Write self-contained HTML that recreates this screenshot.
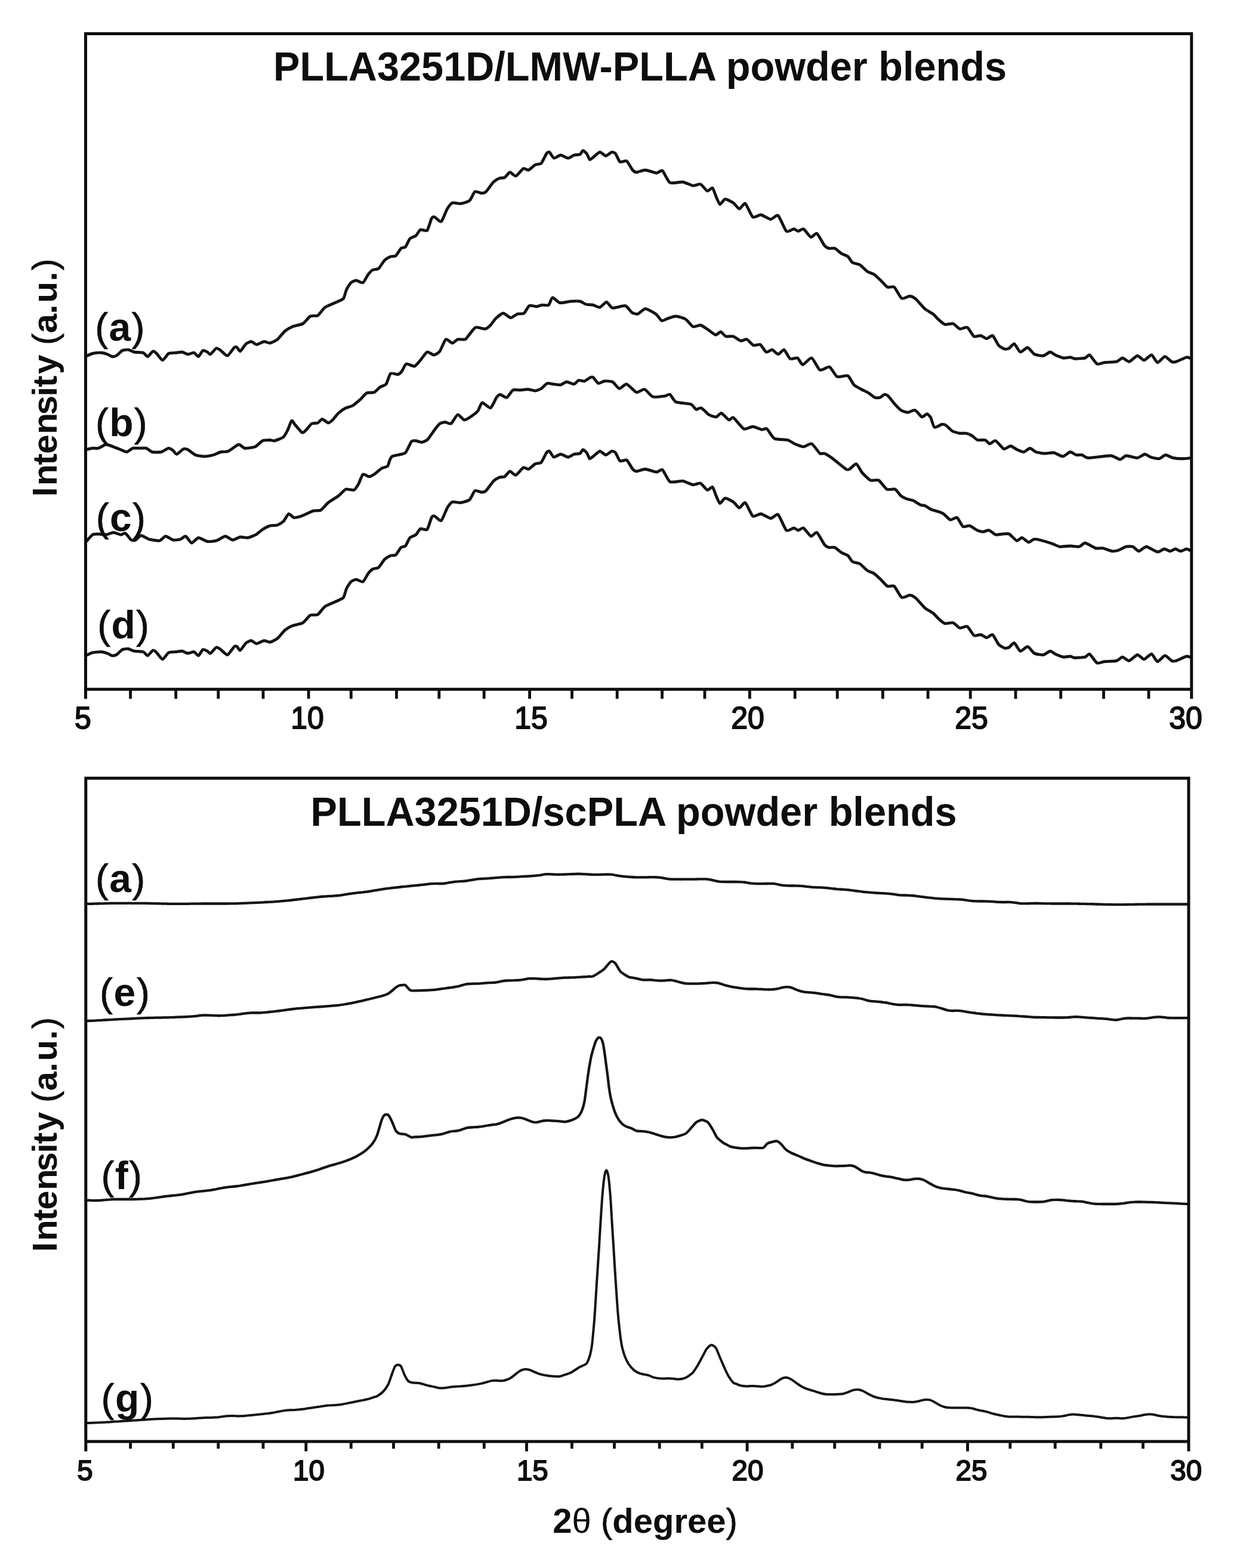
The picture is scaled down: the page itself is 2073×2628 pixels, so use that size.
<!DOCTYPE html>
<html lang="en">
<head>
<meta charset="utf-8">
<title>XRD patterns of PLLA3251D powder blends</title>
<style>
html,body{margin:0;padding:0;background:#fff;}
body{width:2073px;height:2628px;overflow:hidden;}
svg{display:block;filter:blur(0.7px);}
text{font-family:"Liberation Sans",Arial,Helvetica,sans-serif;fill:#0d0d0d;}
.c{fill:none;stroke:#141414;stroke-width:5;stroke-linejoin:round;stroke-linecap:butt;}
</style>
</head>
<body>
<svg width="2073" height="2628" viewBox="0 0 2073 2628">
<rect width="2073" height="2628" fill="#fff"/>
<g class="c">
<path stroke-width="4.9" d="M143.5,597.5 C144.7,597.0 152.3,593.1 155.0,592.5 C157.7,591.9 167.5,591.1 170.0,591.2 C172.5,591.4 178.2,593.1 180.0,593.8 C181.8,594.4 186.0,597.2 187.5,597.5 C189.0,597.8 193.2,597.2 195.0,596.2 C196.8,595.2 203.0,588.5 205.0,587.5 C207.0,586.5 213.0,586.0 215.0,586.2 C217.0,586.5 222.5,589.5 225.0,590.0 C227.5,590.5 237.8,590.5 240.0,591.2 C242.2,592.0 245.9,597.8 247.5,597.5 C249.1,597.2 254.8,589.2 256.2,588.8 C257.8,588.2 260.9,591.0 262.5,592.5 C264.1,594.0 270.5,603.8 272.5,603.8 C274.5,603.8 280.2,593.8 282.5,592.5 C284.8,591.2 292.8,591.5 295.0,591.2 C297.2,591.0 303.0,589.8 305.0,590.0 C307.0,590.2 313.0,593.6 315.0,593.8 C317.0,593.9 323.2,590.9 325.0,591.2 C326.8,591.6 331.0,597.9 332.5,597.5 C334.0,597.1 338.5,588.2 340.0,587.5 C341.5,586.8 346.2,589.4 347.5,590.0 C348.8,590.6 351.0,594.4 352.5,593.8 C354.0,593.1 360.8,584.4 362.5,583.8 C364.2,583.1 368.1,586.2 370.0,587.5 C371.9,588.8 379.0,596.8 381.2,596.2 C383.5,595.8 390.9,583.9 392.5,582.5 C394.1,581.1 396.5,581.9 397.5,582.5 C398.5,583.1 401.0,589.4 402.5,588.8 C404.0,588.1 410.6,577.9 412.5,576.2 C414.4,574.6 419.5,572.4 421.2,572.5 C423.0,572.6 427.9,577.5 430.0,577.5 C432.1,577.5 440.2,572.8 442.5,572.5 C444.8,572.2 450.2,575.4 452.5,575.0 C454.8,574.6 462.5,570.8 465.0,568.8 C467.5,566.8 475.0,557.1 477.5,555.0 C480.0,552.9 487.0,548.8 490.0,547.5 C493.0,546.2 504.5,544.2 507.5,542.5 C510.5,540.8 517.5,531.4 520.0,530.0 C522.5,528.6 530.0,530.2 532.5,528.8 C535.0,527.2 541.5,517.4 545.0,515.0 C548.5,512.6 563.9,506.5 567.0,505.0 C570.1,503.5 574.4,502.0 575.8,500.0 C577.1,498.0 579.5,487.6 580.8,485.0 C582.0,482.4 586.6,475.2 588.2,473.8 C589.9,472.2 595.0,470.0 597.0,470.0 C599.0,470.0 606.2,474.8 608.2,473.8 C610.2,472.8 615.4,462.1 617.0,460.0 C618.6,457.9 622.8,453.5 624.5,452.5 C626.2,451.5 632.5,451.6 634.5,450.0 C636.5,448.4 642.5,438.2 644.5,436.2 C646.5,434.2 652.6,430.8 654.5,430.0 C656.4,429.2 661.5,430.1 663.2,428.8 C665.0,427.4 670.4,417.8 672.0,416.2 C673.6,414.8 678.0,415.4 679.5,413.8 C681.0,412.1 685.2,401.9 687.0,400.0 C688.8,398.1 695.2,396.5 697.0,395.0 C698.8,393.5 702.6,385.9 704.5,385.0 C706.4,384.1 713.9,388.1 715.8,386.2 C717.6,384.4 722.0,368.5 723.2,366.2 C724.5,364.0 726.6,363.2 728.2,363.8 C729.9,364.2 737.4,372.6 739.5,371.2 C741.6,369.9 747.6,353.1 749.5,350.0 C751.4,346.9 756.0,340.9 758.2,340.0 C760.5,339.1 769.1,341.6 772.0,341.2 C774.9,340.9 784.6,338.2 787.0,336.2 C789.4,334.2 793.8,322.5 795.8,321.2 C797.8,320.0 805.1,323.8 807.0,323.8 C808.9,323.8 812.5,323.1 814.5,321.2 C816.5,319.4 824.8,307.2 827.0,305.0 C829.2,302.8 835.1,299.5 837.0,298.8 C838.9,298.0 844.0,298.5 845.8,297.5 C847.5,296.5 852.6,289.0 854.5,288.8 C856.4,288.5 862.2,295.6 864.5,295.0 C866.8,294.4 874.9,283.5 877.0,282.5 C879.1,281.5 883.8,285.6 885.8,285.0 C887.8,284.4 894.9,277.4 897.0,276.2 C899.1,275.1 905.1,275.6 907.0,273.8 C908.9,271.9 914.4,259.4 915.8,257.5 C917.1,255.6 919.5,254.2 920.8,255.0 C922.0,255.8 926.4,264.5 928.2,265.0 C930.1,265.5 937.1,260.0 939.5,260.0 C941.9,260.0 949.8,265.0 952.0,265.0 C954.2,265.0 960.0,260.6 962.0,260.0 C964.0,259.4 970.5,259.5 972.0,258.8 C973.5,258.0 975.9,252.6 977.0,252.5 C978.1,252.4 982.1,256.0 983.2,257.5 C984.4,259.0 987.2,266.9 988.2,267.5 C989.3,268.1 992.3,265.0 994.0,263.8 C995.7,262.5 1003.1,255.2 1005.2,255.0 C1007.4,254.8 1013.2,261.2 1015.2,261.2 C1017.2,261.2 1023.6,255.4 1025.2,255.0 C1026.9,254.6 1030.1,255.9 1031.5,257.5 C1032.9,259.1 1037.1,270.0 1039.0,271.2 C1040.9,272.5 1048.1,268.6 1050.2,270.0 C1052.4,271.4 1058.6,283.1 1060.2,285.0 C1061.9,286.9 1064.4,288.8 1066.5,288.8 C1068.6,288.8 1078.1,284.9 1081.5,285.0 C1084.9,285.1 1097.4,289.9 1100.2,290.0 C1103.1,290.1 1108.0,284.6 1110.2,286.2 C1112.5,287.9 1119.4,304.4 1122.8,306.2 C1126.1,308.1 1140.1,304.5 1144.0,305.0 C1147.9,305.5 1158.5,310.9 1161.5,311.2 C1164.5,311.6 1171.6,307.9 1174.0,308.8 C1176.4,309.6 1183.2,319.4 1185.2,320.0 C1187.2,320.6 1192.5,314.0 1194.0,315.0 C1195.5,316.0 1199.0,327.2 1200.2,330.0 C1201.5,332.8 1205.0,342.1 1206.5,342.5 C1208.0,342.9 1213.0,334.0 1215.2,333.8 C1217.5,333.5 1226.6,338.4 1229.0,340.0 C1231.4,341.6 1237.0,349.9 1239.0,350.0 C1241.0,350.1 1246.8,339.9 1249.0,341.2 C1251.2,342.6 1258.9,361.9 1261.5,363.8 C1264.1,365.6 1272.2,359.6 1275.2,360.0 C1278.2,360.4 1288.6,367.4 1291.5,367.5 C1294.4,367.6 1301.4,359.2 1304.0,361.2 C1306.6,363.2 1315.1,385.2 1317.8,387.5 C1320.4,389.8 1328.2,383.8 1330.2,383.8 C1332.2,383.8 1336.1,387.5 1337.8,387.5 C1339.4,387.5 1344.4,382.8 1346.5,383.8 C1348.6,384.8 1356.8,396.8 1359.0,397.5 C1361.2,398.2 1366.8,389.9 1369.0,391.2 C1371.2,392.6 1379.5,408.8 1381.5,411.2 C1383.5,413.8 1387.2,415.8 1389.0,416.2 C1390.8,416.8 1396.9,415.4 1399.0,416.2 C1401.1,417.1 1408.0,423.6 1410.2,425.0 C1412.5,426.4 1419.2,428.5 1421.0,430.0 C1422.8,431.5 1426.5,438.6 1428.5,440.0 C1430.5,441.4 1438.5,442.2 1441.0,443.8 C1443.5,445.2 1451.1,453.4 1453.5,455.0 C1455.9,456.6 1462.5,458.5 1464.8,460.0 C1467.0,461.5 1473.8,467.9 1476.0,470.0 C1478.2,472.1 1485.0,480.1 1487.2,481.2 C1489.5,482.4 1496.1,479.4 1498.5,481.2 C1500.9,483.1 1508.4,498.5 1511.0,500.0 C1513.6,501.5 1522.4,496.1 1524.8,496.2 C1527.1,496.4 1532.2,499.1 1534.8,501.2 C1537.2,503.4 1546.9,515.0 1549.8,517.5 C1552.6,520.0 1561.1,524.4 1563.5,526.2 C1565.9,528.1 1571.5,534.5 1573.5,536.2 C1575.5,538.0 1581.1,543.1 1583.5,543.8 C1585.9,544.4 1594.8,541.8 1597.2,542.5 C1599.8,543.2 1606.1,550.6 1608.5,551.2 C1610.9,551.9 1618.6,547.5 1621.0,548.8 C1623.4,550.0 1630.0,562.4 1632.2,563.8 C1634.5,565.1 1641.4,562.1 1643.5,562.5 C1645.6,562.9 1651.5,567.5 1653.5,567.5 C1655.5,567.5 1661.5,561.4 1663.5,562.5 C1665.5,563.6 1671.5,576.5 1673.5,578.8 C1675.5,581.0 1681.8,584.5 1683.5,585.0 C1685.2,585.5 1689.4,584.6 1691.0,583.8 C1692.6,582.9 1697.9,575.6 1699.8,576.2 C1701.6,576.9 1707.5,589.4 1709.8,590.0 C1712.0,590.6 1719.9,582.1 1722.2,582.5 C1724.6,582.9 1730.9,592.4 1733.5,593.8 C1736.1,595.1 1745.9,596.6 1748.5,596.2 C1751.1,595.9 1757.8,590.1 1759.8,590.0 C1761.8,589.9 1766.2,594.0 1768.5,595.0 C1770.8,596.0 1779.8,599.6 1782.2,600.0 C1784.8,600.4 1791.6,598.6 1793.5,598.8 C1795.4,598.9 1798.5,601.1 1801.0,601.2 C1803.5,601.4 1816.0,600.6 1818.5,600.0 C1821.0,599.4 1824.0,594.0 1826.0,595.0 C1828.0,596.0 1836.0,608.8 1838.5,610.0 C1841.0,611.2 1847.8,607.9 1851.0,607.5 C1854.2,607.1 1868.0,607.0 1871.0,606.2 C1874.0,605.5 1878.9,600.0 1881.0,600.0 C1883.1,600.0 1889.8,606.6 1892.2,606.2 C1894.8,605.9 1903.5,596.5 1906.0,596.2 C1908.5,596.0 1914.9,603.9 1917.2,603.8 C1919.6,603.6 1927.5,594.6 1929.8,595.0 C1932.0,595.4 1937.5,607.2 1939.8,607.5 C1942.0,607.8 1949.9,597.6 1952.2,597.5 C1954.6,597.4 1961.6,605.4 1963.5,606.2 C1965.4,607.1 1968.5,607.0 1971.0,606.2 C1973.5,605.5 1985.9,599.2 1988.5,598.8 C1991.1,598.2 1996.0,601.0 1996.8,601.2"/>
<path stroke-width="4.9" d="M143.5,753.8 C144.7,753.5 152.8,751.5 155.0,751.2 C157.2,751.0 162.8,751.9 165.0,751.2 C167.2,750.6 175.0,745.2 177.5,745.0 C180.0,744.8 187.5,747.9 190.0,748.8 C192.5,749.6 200.2,752.9 202.5,753.8 C204.8,754.6 210.5,757.8 212.5,757.5 C214.5,757.2 220.5,751.9 222.5,751.2 C224.5,750.6 230.2,751.2 232.5,751.2 C234.8,751.2 242.8,750.6 245.0,751.2 C247.2,751.9 252.5,756.9 255.0,757.5 C257.5,758.1 267.2,758.1 270.0,757.5 C272.8,756.9 280.5,751.5 282.5,751.2 C284.5,751.0 288.6,754.0 290.0,755.0 C291.4,756.0 294.5,761.5 296.2,761.2 C298.0,761.0 305.6,753.2 307.5,752.5 C309.4,751.8 313.0,752.8 315.0,753.8 C317.0,754.8 324.8,761.4 327.5,762.5 C330.2,763.6 339.5,765.0 342.5,765.0 C345.5,765.0 354.8,763.2 357.5,762.5 C360.2,761.8 367.5,758.1 370.0,757.5 C372.5,756.9 379.5,757.5 382.5,756.2 C385.5,755.0 397.2,745.5 400.0,745.0 C402.8,744.5 407.2,750.9 410.0,751.2 C412.8,751.6 424.5,750.0 427.5,748.8 C430.5,747.5 437.5,739.9 440.0,738.8 C442.5,737.6 450.5,737.5 452.5,737.5 C454.5,737.5 457.8,739.2 460.0,738.8 C462.2,738.2 472.8,734.4 475.0,732.5 C477.2,730.6 481.1,722.8 482.5,720.0 C483.9,717.2 487.5,705.8 488.8,705.0 C490.0,704.2 493.2,710.5 495.0,712.5 C496.8,714.5 504.5,724.1 506.2,725.0 C508.0,725.9 510.9,722.8 512.5,721.2 C514.1,719.8 520.5,711.2 522.5,710.0 C524.5,708.8 530.8,709.5 532.5,708.8 C534.2,708.0 538.2,702.5 540.0,702.5 C541.8,702.5 548.2,708.6 550.0,708.8 C551.8,708.9 555.8,705.4 557.5,703.8 C559.2,702.1 564.8,694.5 567.0,692.5 C569.2,690.5 577.1,685.0 579.5,683.8 C581.9,682.5 588.2,681.5 590.8,680.0 C593.2,678.5 602.1,670.9 604.5,668.8 C606.9,666.6 612.2,659.9 614.5,658.8 C616.8,657.6 624.8,658.5 627.0,657.5 C629.2,656.5 635.0,650.1 637.0,648.8 C639.0,647.4 645.2,646.0 647.0,643.8 C648.8,641.5 652.5,627.9 654.5,626.2 C656.5,624.6 665.1,627.9 667.0,627.5 C668.9,627.1 671.9,624.2 673.2,622.5 C674.6,620.8 678.6,610.9 680.8,610.0 C682.9,609.1 692.1,614.4 694.5,613.8 C696.9,613.1 702.4,606.1 704.5,603.8 C706.6,601.4 713.5,590.9 715.8,590.0 C718.0,589.1 724.9,595.1 727.0,595.0 C729.1,594.9 735.0,591.4 737.0,588.8 C739.0,586.1 744.9,570.1 747.0,568.8 C749.1,567.4 756.2,575.0 758.2,575.0 C760.2,575.0 764.9,569.4 767.0,568.8 C769.1,568.1 777.5,569.6 779.5,568.8 C781.5,567.9 785.2,562.0 787.0,560.0 C788.8,558.0 794.4,549.6 797.0,548.8 C799.6,547.9 810.8,551.6 813.2,551.2 C815.8,550.9 820.2,546.8 822.0,545.0 C823.8,543.2 828.6,535.8 830.8,533.8 C832.9,531.8 840.8,525.1 843.2,525.0 C845.8,524.9 853.4,532.4 855.8,532.5 C858.1,532.6 864.8,527.0 867.0,526.2 C869.2,525.5 876.2,526.4 878.2,525.0 C880.2,523.6 884.9,513.6 887.0,512.5 C889.1,511.4 897.4,513.9 899.5,513.8 C901.6,513.6 906.2,511.5 908.2,511.2 C910.2,511.0 917.8,512.5 919.5,511.2 C921.2,510.0 923.9,499.1 925.8,498.8 C927.6,498.4 935.1,506.9 938.2,507.5 C941.4,508.1 953.6,505.2 957.0,505.0 C960.4,504.8 969.5,504.5 972.0,505.0 C974.5,505.5 979.8,509.4 982.0,510.0 C984.2,510.6 991.7,510.8 994.0,511.2 C996.3,511.8 1003.0,515.5 1005.2,515.0 C1007.5,514.5 1014.4,506.1 1016.5,506.2 C1018.6,506.4 1023.4,515.6 1026.5,516.2 C1029.6,516.9 1044.5,511.8 1047.8,512.5 C1051.0,513.2 1056.9,522.4 1059.0,523.8 C1061.1,525.1 1066.8,526.9 1069.0,526.2 C1071.2,525.6 1078.5,517.5 1081.5,517.5 C1084.5,517.5 1096.2,524.2 1099.0,526.2 C1101.8,528.2 1107.0,536.8 1109.0,537.5 C1111.0,538.2 1116.6,534.5 1119.0,533.8 C1121.4,533.0 1129.8,529.9 1132.8,530.0 C1135.8,530.1 1146.1,533.2 1149.0,535.0 C1151.9,536.8 1159.0,546.5 1161.5,547.5 C1164.0,548.5 1171.5,544.5 1174.0,545.0 C1176.5,545.5 1184.0,550.9 1186.5,552.5 C1189.0,554.1 1196.9,560.9 1199.0,561.2 C1201.1,561.6 1206.0,556.0 1207.8,556.2 C1209.5,556.5 1214.4,563.0 1216.5,563.8 C1218.6,564.5 1226.5,563.0 1229.0,563.8 C1231.5,564.5 1239.2,570.8 1241.5,571.2 C1243.8,571.8 1249.4,568.0 1251.5,568.8 C1253.6,569.5 1260.5,577.9 1262.8,578.8 C1265.0,579.6 1271.9,576.4 1274.0,577.5 C1276.1,578.6 1282.0,589.1 1284.0,590.0 C1286.0,590.9 1292.0,585.9 1294.0,586.2 C1296.0,586.6 1302.0,593.8 1304.0,593.8 C1306.0,593.8 1312.0,585.5 1314.0,586.2 C1316.0,587.0 1321.8,599.9 1324.0,601.2 C1326.2,602.6 1334.4,599.0 1336.5,600.0 C1338.6,601.0 1342.9,611.2 1345.2,611.2 C1347.6,611.2 1357.4,599.1 1360.2,600.0 C1363.1,600.9 1371.0,618.5 1374.0,620.0 C1377.0,621.5 1387.4,613.9 1390.2,615.0 C1393.1,616.1 1399.7,629.8 1402.8,631.2 C1405.8,632.8 1418.2,628.6 1421.0,630.0 C1423.8,631.4 1428.8,642.8 1431.0,645.0 C1433.2,647.2 1441.0,651.1 1443.5,652.5 C1446.0,653.9 1453.8,657.4 1456.0,658.8 C1458.2,660.1 1464.1,665.5 1466.0,666.2 C1467.9,667.0 1473.1,666.8 1474.8,666.2 C1476.4,665.8 1480.9,661.5 1482.2,661.2 C1483.6,661.0 1486.9,662.2 1488.5,663.8 C1490.1,665.2 1496.4,673.9 1498.5,676.2 C1500.6,678.6 1507.5,686.0 1509.8,687.5 C1512.0,689.0 1518.6,691.2 1521.0,691.2 C1523.4,691.2 1531.1,686.8 1533.5,687.5 C1535.9,688.2 1542.8,698.1 1544.8,698.8 C1546.8,699.4 1552.0,693.6 1553.5,693.8 C1555.0,693.9 1558.5,697.8 1559.8,700.0 C1561.0,702.2 1564.1,715.1 1566.0,716.2 C1567.9,717.4 1576.6,711.6 1578.5,711.2 C1580.4,710.9 1583.0,711.4 1584.8,712.5 C1586.5,713.6 1593.6,721.1 1596.0,722.5 C1598.4,723.9 1606.2,725.9 1608.5,726.2 C1610.8,726.6 1616.5,725.9 1618.5,726.2 C1620.5,726.6 1626.5,728.9 1628.5,730.0 C1630.5,731.1 1636.2,736.8 1638.5,737.5 C1640.8,738.2 1649.0,736.9 1651.0,737.5 C1653.0,738.1 1656.8,743.6 1658.5,743.8 C1660.2,743.9 1666.1,737.9 1668.5,738.8 C1670.9,739.6 1679.8,751.6 1682.2,752.5 C1684.8,753.4 1691.2,747.4 1693.5,747.5 C1695.8,747.6 1702.5,752.8 1704.8,753.8 C1707.0,754.8 1713.9,757.8 1716.0,757.5 C1718.1,757.2 1724.0,751.2 1726.0,751.2 C1728.0,751.2 1733.5,756.6 1736.0,757.5 C1738.5,758.4 1748.0,759.9 1751.0,760.0 C1754.0,760.1 1763.0,758.2 1766.0,758.8 C1769.0,759.2 1778.2,765.1 1781.0,765.0 C1783.8,764.9 1791.2,757.8 1793.5,757.5 C1795.8,757.2 1801.5,762.0 1803.5,762.5 C1805.5,763.0 1811.5,762.0 1813.5,762.5 C1815.5,763.0 1818.8,767.4 1823.5,767.5 C1828.2,767.6 1855.6,763.5 1861.0,763.8 C1866.4,764.0 1874.6,770.0 1877.2,770.0 C1879.9,770.0 1884.4,764.0 1887.2,763.8 C1890.1,763.5 1902.9,767.8 1906.0,767.5 C1909.1,767.2 1916.2,761.4 1918.5,761.2 C1920.8,761.1 1926.1,765.5 1928.5,766.2 C1930.9,767.0 1939.8,769.1 1942.2,768.8 C1944.8,768.4 1951.1,762.6 1953.5,762.5 C1955.9,762.4 1963.2,766.9 1966.0,767.5 C1968.8,768.1 1977.9,768.8 1981.0,768.8 C1984.1,768.8 1995.2,767.6 1996.8,767.5"/>
<path stroke-width="4.9" d="M143.5,908.8 C144.7,907.5 152.8,897.6 155.0,896.2 C157.2,894.9 162.8,895.0 165.0,895.0 C167.2,895.0 175.0,896.5 177.5,896.2 C180.0,896.0 187.5,892.5 190.0,892.5 C192.5,892.5 200.5,896.1 202.5,896.2 C204.5,896.4 208.2,892.9 210.0,893.8 C211.8,894.6 218.2,903.9 220.0,905.0 C221.8,906.1 225.9,905.8 227.5,905.0 C229.1,904.2 234.0,897.6 236.2,897.5 C238.5,897.4 246.9,902.9 250.0,903.8 C253.1,904.6 264.8,906.8 267.5,906.2 C270.2,905.8 275.2,898.9 277.5,898.8 C279.8,898.6 287.5,904.5 290.0,905.0 C292.5,905.5 300.4,904.4 302.5,903.8 C304.6,903.1 309.4,898.1 311.2,898.8 C313.1,899.4 319.1,909.8 321.2,910.0 C323.4,910.2 329.9,901.5 332.5,901.2 C335.1,901.0 344.5,907.0 347.5,907.5 C350.5,908.0 359.5,907.1 362.5,906.2 C365.5,905.4 374.8,898.9 377.5,898.8 C380.2,898.6 387.5,904.9 390.0,905.0 C392.5,905.1 400.0,900.4 402.5,900.0 C405.0,899.6 412.4,901.6 415.0,901.2 C417.6,900.9 426.2,897.6 428.8,896.2 C431.2,894.9 437.6,889.0 440.0,887.5 C442.4,886.0 450.0,882.0 452.5,881.2 C455.0,880.5 462.8,880.8 465.0,880.0 C467.2,879.2 473.1,875.6 475.0,873.8 C476.9,871.9 482.0,861.9 483.8,861.2 C485.5,860.6 490.4,867.1 492.5,867.5 C494.6,867.9 501.8,866.1 505.0,865.0 C508.2,863.9 521.8,857.2 525.0,856.2 C528.2,855.2 535.0,856.4 537.5,855.0 C540.0,853.6 547.0,844.9 550.0,842.5 C553.0,840.1 564.0,833.5 567.0,831.2 C570.0,829.0 576.9,821.0 579.5,820.0 C582.1,819.0 591.1,822.1 593.2,821.2 C595.4,820.4 599.2,813.9 600.8,811.2 C602.2,808.6 606.5,796.2 608.2,795.0 C610.0,793.8 616.4,798.8 618.2,798.8 C620.1,798.8 624.9,796.4 627.0,795.0 C629.1,793.6 637.2,786.4 639.5,785.0 C641.8,783.6 648.1,782.6 649.5,781.2 C650.9,779.9 652.5,772.6 653.2,771.0 C654.0,769.4 655.6,765.9 657.0,765.0 C658.4,764.1 664.8,763.1 667.0,762.5 C669.2,761.9 677.2,761.0 679.5,758.8 C681.8,756.5 687.8,742.0 689.5,740.0 C691.2,738.0 695.2,738.6 697.0,738.8 C698.8,738.9 705.0,741.5 707.0,741.2 C709.0,741.0 714.8,738.5 717.0,736.2 C719.2,734.0 727.5,721.4 729.5,718.8 C731.5,716.1 735.4,711.1 737.0,710.0 C738.6,708.9 743.9,707.5 745.8,707.5 C747.6,707.5 753.6,711.2 755.8,710.0 C757.9,708.8 764.8,695.6 767.0,695.0 C769.2,694.4 775.8,703.6 778.2,703.8 C780.8,703.9 789.8,697.8 792.0,696.2 C794.2,694.8 799.1,690.9 800.8,688.8 C802.4,686.6 806.1,675.5 808.2,675.0 C810.4,674.5 819.6,684.6 822.0,683.8 C824.4,682.9 830.4,668.5 832.0,666.2 C833.6,664.0 836.5,661.2 838.2,661.2 C840.0,661.2 847.4,667.0 849.5,666.2 C851.6,665.5 857.2,655.0 859.5,653.8 C861.8,652.5 869.5,653.9 872.0,653.8 C874.5,653.6 882.0,652.4 884.5,652.5 C887.0,652.6 894.8,655.1 897.0,655.0 C899.2,654.9 905.0,652.5 907.0,651.2 C909.0,650.0 915.0,643.2 917.0,642.5 C919.0,641.8 924.8,643.5 927.0,643.8 C929.2,644.0 937.2,645.4 939.5,645.0 C941.8,644.6 947.2,640.1 949.5,640.0 C951.8,639.9 960.0,644.0 962.0,643.8 C964.0,643.5 967.8,638.0 969.5,637.5 C971.2,637.0 977.5,639.2 979.5,638.8 C981.5,638.2 988.0,633.1 989.5,632.5 C991.0,631.9 992.7,631.5 994.0,632.5 C995.3,633.5 1000.9,641.9 1002.8,642.5 C1004.6,643.1 1010.4,639.0 1012.8,638.8 C1015.1,638.5 1024.0,638.8 1026.5,640.0 C1029.0,641.2 1035.4,650.9 1037.8,651.2 C1040.1,651.6 1047.4,643.1 1050.2,643.8 C1053.1,644.4 1063.5,656.6 1066.5,657.5 C1069.5,658.4 1077.5,651.8 1080.2,652.5 C1083.0,653.2 1090.6,663.9 1094.0,665.0 C1097.4,666.1 1111.1,664.1 1114.0,663.8 C1116.9,663.4 1120.9,660.2 1122.8,661.2 C1124.6,662.2 1129.2,672.1 1132.8,673.8 C1136.2,675.4 1154.4,676.2 1157.8,677.5 C1161.1,678.8 1164.8,685.6 1166.5,686.2 C1168.2,686.9 1173.1,682.9 1175.2,683.8 C1177.4,684.6 1185.2,693.5 1187.8,695.0 C1190.2,696.5 1198.1,699.0 1200.2,698.8 C1202.4,698.5 1206.9,692.0 1209.0,692.5 C1211.1,693.0 1219.5,703.0 1221.5,703.8 C1223.5,704.5 1226.5,698.5 1229.0,700.0 C1231.5,701.5 1243.2,717.2 1246.5,718.8 C1249.8,720.2 1258.5,714.9 1261.5,715.0 C1264.5,715.1 1274.1,719.6 1276.5,720.0 C1278.9,720.4 1283.1,717.2 1285.2,718.8 C1287.4,720.2 1294.2,733.1 1297.8,735.0 C1301.2,736.9 1316.9,736.6 1320.2,737.5 C1323.6,738.4 1328.9,742.6 1331.5,743.8 C1334.1,744.9 1343.6,748.8 1346.5,748.8 C1349.4,748.8 1357.5,742.6 1360.2,743.8 C1363.0,744.9 1371.9,758.4 1374.0,760.0 C1376.1,761.6 1379.5,759.2 1381.5,760.0 C1383.5,760.8 1390.4,764.9 1394.0,767.5 C1397.6,770.1 1414.5,784.4 1417.5,786.2 C1420.5,788.1 1422.0,787.1 1423.8,786.2 C1425.5,785.4 1432.9,776.9 1435.0,777.5 C1437.1,778.1 1442.6,789.8 1445.0,792.5 C1447.4,795.2 1456.0,803.8 1458.8,805.0 C1461.5,806.2 1469.8,803.5 1472.5,805.0 C1475.2,806.5 1483.5,818.5 1486.2,820.0 C1489.0,821.5 1497.6,818.9 1500.0,820.0 C1502.4,821.1 1508.0,829.6 1510.0,831.2 C1512.0,832.9 1518.0,835.5 1520.0,836.2 C1522.0,837.0 1527.8,837.8 1530.0,838.8 C1532.2,839.8 1540.5,845.4 1542.5,846.2 C1544.5,847.1 1548.2,846.8 1550.0,847.5 C1551.8,848.2 1557.8,852.8 1560.0,853.8 C1562.2,854.8 1570.4,856.8 1572.5,857.5 C1574.6,858.2 1579.2,859.9 1581.2,861.2 C1583.2,862.6 1590.2,870.6 1592.5,871.2 C1594.8,871.9 1601.6,866.4 1603.8,867.5 C1605.9,868.6 1611.6,881.1 1613.8,882.5 C1615.9,883.9 1622.6,880.6 1625.0,881.2 C1627.4,881.9 1635.2,887.8 1637.5,888.8 C1639.8,889.8 1645.5,891.2 1647.5,891.2 C1649.5,891.2 1655.4,888.2 1657.5,888.8 C1659.6,889.2 1666.5,895.6 1668.8,896.2 C1671.0,896.9 1677.8,895.1 1680.0,895.0 C1682.2,894.9 1688.9,893.9 1691.2,895.0 C1693.6,896.1 1701.6,905.6 1703.8,906.2 C1705.9,906.9 1710.5,901.0 1712.5,901.2 C1714.5,901.5 1721.8,908.5 1723.8,908.8 C1725.8,909.0 1730.6,904.1 1732.5,903.8 C1734.4,903.4 1739.4,904.2 1742.5,905.0 C1745.6,905.8 1760.2,910.1 1763.5,911.2 C1766.8,912.4 1773.0,915.9 1776.0,916.2 C1779.0,916.6 1790.2,915.0 1793.5,915.0 C1796.8,915.0 1806.0,916.8 1808.5,916.2 C1811.0,915.8 1815.8,909.8 1818.5,910.0 C1821.2,910.2 1833.0,917.9 1836.0,918.8 C1839.0,919.6 1845.8,918.2 1848.5,918.8 C1851.2,919.2 1861.0,923.4 1863.5,923.8 C1866.0,924.1 1871.1,923.2 1873.5,922.5 C1875.9,921.8 1884.8,916.9 1887.2,916.2 C1889.8,915.6 1896.4,915.5 1898.5,916.2 C1900.6,917.0 1906.2,923.8 1908.5,923.8 C1910.8,923.8 1917.9,916.1 1921.0,916.2 C1924.1,916.4 1936.8,924.6 1939.8,925.0 C1942.8,925.4 1948.9,920.1 1951.0,920.0 C1953.1,919.9 1959.1,923.8 1961.0,923.8 C1962.9,923.8 1968.0,920.0 1969.8,920.0 C1971.5,920.0 1976.6,923.8 1978.5,923.8 C1980.4,923.8 1986.7,920.0 1988.5,920.0 C1990.3,920.0 1996.0,923.4 1996.8,923.8"/>
<path stroke-width="4.9" d="M143.5,1098.8 C144.7,1098.2 152.3,1094.4 155.0,1093.8 C157.7,1093.1 167.5,1092.4 170.0,1092.5 C172.5,1092.6 178.2,1094.4 180.0,1095.0 C181.8,1095.6 186.0,1098.5 187.5,1098.8 C189.0,1099.0 193.2,1098.5 195.0,1097.5 C196.8,1096.5 203.0,1089.8 205.0,1088.8 C207.0,1087.8 213.0,1087.2 215.0,1087.5 C217.0,1087.8 222.5,1090.8 225.0,1091.2 C227.5,1091.8 237.8,1091.8 240.0,1092.5 C242.2,1093.2 245.9,1099.0 247.5,1098.8 C249.1,1098.5 254.8,1090.5 256.2,1090.0 C257.8,1089.5 260.9,1092.2 262.5,1093.8 C264.1,1095.2 270.5,1105.0 272.5,1105.0 C274.5,1105.0 280.2,1095.0 282.5,1093.8 C284.8,1092.5 292.8,1092.8 295.0,1092.5 C297.2,1092.2 303.0,1091.0 305.0,1091.2 C307.0,1091.5 313.0,1094.9 315.0,1095.0 C317.0,1095.1 323.2,1092.1 325.0,1092.5 C326.8,1092.9 331.0,1099.1 332.5,1098.8 C334.0,1098.4 338.5,1089.5 340.0,1088.8 C341.5,1088.0 346.2,1090.6 347.5,1091.2 C348.8,1091.9 351.0,1095.6 352.5,1095.0 C354.0,1094.4 360.8,1085.6 362.5,1085.0 C364.2,1084.4 368.1,1087.5 370.0,1088.8 C371.9,1090.0 379.0,1098.0 381.2,1097.5 C383.5,1097.0 390.9,1085.1 392.5,1083.8 C394.1,1082.4 396.5,1083.1 397.5,1083.8 C398.5,1084.4 401.0,1090.6 402.5,1090.0 C404.0,1089.4 410.6,1079.1 412.5,1077.5 C414.4,1075.9 419.5,1073.6 421.2,1073.8 C423.0,1073.9 427.9,1078.8 430.0,1078.8 C432.1,1078.8 440.2,1074.0 442.5,1073.8 C444.8,1073.5 450.2,1076.6 452.5,1076.2 C454.8,1075.9 462.5,1072.0 465.0,1070.0 C467.5,1068.0 475.0,1058.4 477.5,1056.2 C480.0,1054.1 487.0,1050.0 490.0,1048.8 C493.0,1047.5 504.5,1045.5 507.5,1043.8 C510.5,1042.0 517.5,1032.6 520.0,1031.2 C522.5,1029.9 530.0,1031.5 532.5,1030.0 C535.0,1028.5 541.5,1018.6 545.0,1016.2 C548.5,1013.9 563.9,1007.8 567.0,1006.2 C570.1,1004.8 574.4,1003.2 575.8,1001.2 C577.1,999.2 579.5,988.9 580.8,986.2 C582.0,983.6 586.6,976.5 588.2,975.0 C589.9,973.5 595.0,971.2 597.0,971.2 C599.0,971.2 606.2,976.0 608.2,975.0 C610.2,974.0 615.4,963.4 617.0,961.2 C618.6,959.1 622.8,954.8 624.5,953.8 C626.2,952.8 632.5,952.9 634.5,951.2 C636.5,949.6 642.5,939.5 644.5,937.5 C646.5,935.5 652.6,932.0 654.5,931.2 C656.4,930.5 661.5,931.4 663.2,930.0 C665.0,928.6 670.4,919.0 672.0,917.5 C673.6,916.0 678.0,916.6 679.5,915.0 C681.0,913.4 685.2,903.1 687.0,901.2 C688.8,899.4 695.2,897.8 697.0,896.2 C698.8,894.8 702.6,887.1 704.5,886.2 C706.4,885.4 713.9,889.4 715.8,887.5 C717.6,885.6 722.0,869.8 723.2,867.5 C724.5,865.2 726.6,864.5 728.2,865.0 C729.9,865.5 737.4,873.9 739.5,872.5 C741.6,871.1 747.6,854.4 749.5,851.2 C751.4,848.1 756.0,842.1 758.2,841.2 C760.5,840.4 769.1,842.9 772.0,842.5 C774.9,842.1 784.6,839.5 787.0,837.5 C789.4,835.5 793.8,823.8 795.8,822.5 C797.8,821.2 805.1,825.0 807.0,825.0 C808.9,825.0 812.5,824.4 814.5,822.5 C816.5,820.6 824.8,808.5 827.0,806.2 C829.2,804.0 835.1,800.8 837.0,800.0 C838.9,799.2 844.0,799.8 845.8,798.8 C847.5,797.8 852.6,790.2 854.5,790.0 C856.4,789.8 862.2,796.9 864.5,796.2 C866.8,795.6 874.9,784.8 877.0,783.8 C879.1,782.8 883.8,786.9 885.8,786.2 C887.8,785.6 894.9,778.6 897.0,777.5 C899.1,776.4 905.1,776.9 907.0,775.0 C908.9,773.1 914.4,760.6 915.8,758.8 C917.1,756.9 919.5,755.5 920.8,756.2 C922.0,757.0 926.4,765.8 928.2,766.2 C930.1,766.8 937.1,761.2 939.5,761.2 C941.9,761.2 949.8,766.2 952.0,766.2 C954.2,766.2 960.0,761.9 962.0,761.2 C964.0,760.6 970.5,760.8 972.0,760.0 C973.5,759.2 975.9,753.9 977.0,753.8 C978.1,753.6 982.1,757.2 983.2,758.8 C984.4,760.2 987.2,768.1 988.2,768.8 C989.3,769.4 992.3,766.2 994.0,765.0 C995.7,763.8 1003.1,756.5 1005.2,756.2 C1007.4,756.0 1013.2,762.5 1015.2,762.5 C1017.2,762.5 1023.6,756.6 1025.2,756.2 C1026.9,755.9 1030.1,757.1 1031.5,758.8 C1032.9,760.4 1037.1,771.2 1039.0,772.5 C1040.9,773.8 1048.1,769.9 1050.2,771.2 C1052.4,772.6 1058.6,784.4 1060.2,786.2 C1061.9,788.1 1064.4,790.0 1066.5,790.0 C1068.6,790.0 1078.1,786.1 1081.5,786.2 C1084.9,786.4 1097.4,791.1 1100.2,791.2 C1103.1,791.4 1108.0,785.9 1110.2,787.5 C1112.5,789.1 1119.4,805.6 1122.8,807.5 C1126.1,809.4 1140.1,805.8 1144.0,806.2 C1147.9,806.8 1158.5,812.1 1161.5,812.5 C1164.5,812.9 1171.6,809.1 1174.0,810.0 C1176.4,810.9 1183.2,820.6 1185.2,821.2 C1187.2,821.9 1192.5,815.2 1194.0,816.2 C1195.5,817.2 1199.0,828.5 1200.2,831.2 C1201.5,834.0 1205.0,843.4 1206.5,843.8 C1208.0,844.1 1213.0,835.2 1215.2,835.0 C1217.5,834.8 1226.6,839.6 1229.0,841.2 C1231.4,842.9 1237.0,851.1 1239.0,851.2 C1241.0,851.4 1246.8,841.1 1249.0,842.5 C1251.2,843.9 1258.9,863.1 1261.5,865.0 C1264.1,866.9 1272.2,860.9 1275.2,861.2 C1278.2,861.6 1288.6,868.6 1291.5,868.8 C1294.4,868.9 1301.4,860.5 1304.0,862.5 C1306.6,864.5 1315.1,886.5 1317.8,888.8 C1320.4,891.0 1328.2,885.0 1330.2,885.0 C1332.2,885.0 1336.1,888.8 1337.8,888.8 C1339.4,888.8 1344.4,884.0 1346.5,885.0 C1348.6,886.0 1356.8,898.0 1359.0,898.8 C1361.2,899.5 1366.8,891.1 1369.0,892.5 C1371.2,893.9 1379.5,910.0 1381.5,912.5 C1383.5,915.0 1387.2,917.0 1389.0,917.5 C1390.8,918.0 1396.9,916.6 1399.0,917.5 C1401.1,918.4 1408.0,924.9 1410.2,926.2 C1412.5,927.6 1419.2,929.8 1421.0,931.2 C1422.8,932.8 1426.5,939.9 1428.5,941.2 C1430.5,942.6 1438.5,943.5 1441.0,945.0 C1443.5,946.5 1451.1,954.6 1453.5,956.2 C1455.9,957.9 1462.5,959.8 1464.8,961.2 C1467.0,962.8 1473.8,969.1 1476.0,971.2 C1478.2,973.4 1485.0,981.4 1487.2,982.5 C1489.5,983.6 1496.1,980.6 1498.5,982.5 C1500.9,984.4 1508.4,999.8 1511.0,1001.2 C1513.6,1002.8 1522.4,997.4 1524.8,997.5 C1527.1,997.6 1532.2,1000.4 1534.8,1002.5 C1537.2,1004.6 1546.9,1016.2 1549.8,1018.8 C1552.6,1021.2 1561.1,1025.6 1563.5,1027.5 C1565.9,1029.4 1571.5,1035.8 1573.5,1037.5 C1575.5,1039.2 1581.1,1044.4 1583.5,1045.0 C1585.9,1045.6 1594.8,1043.0 1597.2,1043.8 C1599.8,1044.5 1606.1,1051.9 1608.5,1052.5 C1610.9,1053.1 1618.6,1048.8 1621.0,1050.0 C1623.4,1051.2 1630.0,1063.6 1632.2,1065.0 C1634.5,1066.4 1641.4,1063.4 1643.5,1063.8 C1645.6,1064.1 1651.5,1068.8 1653.5,1068.8 C1655.5,1068.8 1661.5,1062.6 1663.5,1063.8 C1665.5,1064.9 1671.5,1077.8 1673.5,1080.0 C1675.5,1082.2 1681.8,1085.8 1683.5,1086.2 C1685.2,1086.8 1689.4,1085.9 1691.0,1085.0 C1692.6,1084.1 1697.9,1076.9 1699.8,1077.5 C1701.6,1078.1 1707.5,1090.6 1709.8,1091.2 C1712.0,1091.9 1719.9,1083.4 1722.2,1083.8 C1724.6,1084.1 1730.9,1093.6 1733.5,1095.0 C1736.1,1096.4 1745.9,1097.9 1748.5,1097.5 C1751.1,1097.1 1757.8,1091.4 1759.8,1091.2 C1761.8,1091.1 1766.2,1095.2 1768.5,1096.2 C1770.8,1097.2 1779.8,1100.9 1782.2,1101.2 C1784.8,1101.6 1791.6,1099.9 1793.5,1100.0 C1795.4,1100.1 1798.5,1102.4 1801.0,1102.5 C1803.5,1102.6 1816.0,1101.9 1818.5,1101.2 C1821.0,1100.6 1824.0,1095.2 1826.0,1096.2 C1828.0,1097.2 1836.0,1110.0 1838.5,1111.2 C1841.0,1112.5 1847.8,1109.1 1851.0,1108.8 C1854.2,1108.4 1868.0,1108.2 1871.0,1107.5 C1874.0,1106.8 1878.9,1101.2 1881.0,1101.2 C1883.1,1101.2 1889.8,1107.9 1892.2,1107.5 C1894.8,1107.1 1903.5,1097.8 1906.0,1097.5 C1908.5,1097.2 1914.9,1105.1 1917.2,1105.0 C1919.6,1104.9 1927.5,1095.9 1929.8,1096.2 C1932.0,1096.6 1937.5,1108.5 1939.8,1108.8 C1942.0,1109.0 1949.9,1098.9 1952.2,1098.8 C1954.6,1098.6 1961.6,1106.6 1963.5,1107.5 C1965.4,1108.4 1968.5,1108.2 1971.0,1107.5 C1973.5,1106.8 1985.9,1100.5 1988.5,1100.0 C1991.1,1099.5 1996.0,1102.2 1996.8,1102.5"/>
<path stroke-width="4.3" d="M143.8,1514.9 C144.6,1514.9 150.8,1514.8 152.3,1514.8 C153.7,1514.8 157.1,1514.7 158.3,1514.7 C159.5,1514.6 163.1,1514.5 164.3,1514.5 C165.5,1514.5 169.1,1514.3 170.3,1514.3 C171.5,1514.3 175.1,1514.2 176.3,1514.1 C177.5,1514.1 181.1,1514.0 182.3,1514.0 C183.5,1514.0 187.1,1513.9 188.3,1513.9 C189.5,1513.8 193.1,1513.8 194.3,1513.8 C195.5,1513.8 199.1,1513.8 200.3,1513.8 C201.5,1513.8 205.1,1513.8 206.3,1513.8 C207.5,1513.8 211.1,1513.8 212.3,1513.8 C213.6,1513.7 217.2,1513.7 218.4,1513.8 C219.6,1513.8 223.2,1513.8 224.4,1513.8 C225.6,1513.8 229.2,1513.8 230.4,1513.8 C231.6,1513.8 235.2,1513.8 236.4,1513.8 C237.6,1513.8 241.2,1513.8 242.4,1513.9 C243.6,1513.9 247.2,1513.9 248.4,1514.0 C249.6,1514.0 253.2,1514.1 254.4,1514.1 C255.6,1514.1 259.2,1514.2 260.4,1514.3 C261.6,1514.3 265.2,1514.4 266.4,1514.4 C267.6,1514.4 271.2,1514.5 272.4,1514.6 C273.6,1514.6 277.2,1514.7 278.4,1514.7 C279.6,1514.7 283.3,1514.8 284.5,1514.8 C285.7,1514.9 289.3,1514.9 290.5,1514.9 C291.7,1514.9 295.3,1514.9 296.5,1514.9 C297.7,1514.9 301.3,1514.9 302.5,1514.9 C303.7,1514.9 307.3,1514.8 308.5,1514.8 C309.7,1514.8 313.3,1514.8 314.5,1514.8 C315.7,1514.7 319.3,1514.7 320.5,1514.7 C321.7,1514.7 325.3,1514.6 326.5,1514.6 C327.7,1514.6 331.3,1514.6 332.5,1514.6 C333.7,1514.6 337.3,1514.5 338.5,1514.5 C339.7,1514.5 343.3,1514.5 344.5,1514.5 C345.7,1514.5 349.4,1514.5 350.6,1514.5 C351.8,1514.5 355.4,1514.5 356.6,1514.5 C357.8,1514.5 361.4,1514.5 362.6,1514.5 C363.8,1514.5 367.4,1514.5 368.6,1514.5 C369.8,1514.5 373.4,1514.5 374.6,1514.5 C375.8,1514.5 379.4,1514.5 380.6,1514.5 C381.8,1514.5 385.4,1514.5 386.6,1514.4 C387.8,1514.4 391.4,1514.4 392.6,1514.3 C393.8,1514.3 397.4,1514.2 398.6,1514.1 C399.8,1514.1 403.4,1514.0 404.6,1513.9 C405.8,1513.9 409.4,1513.7 410.6,1513.7 C411.8,1513.6 415.5,1513.5 416.7,1513.4 C417.9,1513.4 421.5,1513.2 422.7,1513.2 C423.9,1513.1 427.5,1513.0 428.7,1512.9 C429.9,1512.9 433.5,1512.7 434.7,1512.7 C435.9,1512.6 439.5,1512.5 440.7,1512.4 C441.9,1512.3 445.5,1512.1 446.7,1512.0 C447.9,1512.0 451.5,1511.7 452.7,1511.7 C453.9,1511.6 457.5,1511.3 458.7,1511.3 C459.9,1511.2 463.5,1510.9 464.7,1510.8 C465.9,1510.8 469.5,1510.5 470.7,1510.4 C471.9,1510.3 475.5,1510.0 476.7,1509.9 C477.9,1509.8 481.5,1509.4 482.8,1509.3 C484.0,1509.2 487.6,1508.8 488.8,1508.6 C490.0,1508.5 493.6,1508.1 494.8,1507.9 C496.0,1507.8 499.6,1507.4 500.8,1507.2 C502.0,1507.1 505.6,1506.6 506.8,1506.5 C508.0,1506.3 511.6,1505.9 512.8,1505.8 C514.0,1505.6 517.6,1505.2 518.8,1505.0 C520.0,1504.9 523.6,1504.5 524.8,1504.3 C526.0,1504.2 529.6,1503.8 530.8,1503.6 C532.0,1503.5 535.6,1503.1 536.8,1503.0 C538.0,1502.9 541.6,1502.6 542.8,1502.5 C544.0,1502.4 547.6,1502.2 548.9,1502.1 C550.1,1502.0 553.7,1501.9 554.9,1501.8 C556.1,1501.7 559.7,1501.5 560.9,1501.4 C562.1,1501.4 565.7,1501.1 566.9,1500.9 C568.1,1500.8 571.7,1500.3 572.9,1500.2 C574.1,1500.0 577.7,1499.4 578.9,1499.2 C580.1,1499.0 583.7,1498.4 584.9,1498.2 C586.1,1498.1 589.7,1497.5 590.9,1497.3 C592.1,1497.2 595.7,1496.7 596.9,1496.6 C598.1,1496.4 601.7,1496.0 602.9,1495.9 C604.1,1495.8 607.7,1495.4 608.9,1495.3 C610.1,1495.1 613.7,1494.7 614.9,1494.6 C616.2,1494.4 619.8,1493.9 621.0,1493.7 C622.2,1493.5 625.8,1492.9 627.0,1492.7 C628.2,1492.5 631.8,1491.8 633.0,1491.6 C634.2,1491.4 637.8,1490.8 639.0,1490.6 C640.2,1490.4 643.8,1489.9 645.0,1489.7 C646.2,1489.6 649.8,1489.1 651.0,1488.9 C652.2,1488.8 655.8,1488.3 657.0,1488.2 C658.2,1488.1 661.8,1487.6 663.0,1487.5 C664.2,1487.4 667.8,1487.0 669.0,1486.8 C670.2,1486.7 673.8,1486.3 675.0,1486.2 C676.2,1486.1 679.8,1485.7 681.0,1485.6 C682.2,1485.5 685.9,1485.1 687.1,1485.0 C688.3,1484.9 691.9,1484.5 693.1,1484.4 C694.3,1484.3 697.9,1483.9 699.1,1483.8 C700.3,1483.7 703.9,1483.3 705.1,1483.2 C706.3,1483.1 709.9,1482.7 711.1,1482.5 C712.3,1482.4 715.9,1481.9 717.1,1481.8 C718.3,1481.7 721.9,1481.2 723.1,1481.1 C724.3,1481.0 727.9,1480.9 729.1,1480.9 C730.3,1480.8 733.9,1481.0 735.1,1481.0 C736.3,1481.0 739.9,1481.0 741.1,1481.0 C742.3,1480.9 745.9,1480.5 747.1,1480.3 C748.3,1480.1 752.0,1479.4 753.2,1479.2 C754.4,1479.0 758.0,1478.4 759.2,1478.3 C760.4,1478.1 764.0,1477.7 765.2,1477.6 C766.4,1477.5 770.0,1477.3 771.2,1477.2 C772.4,1477.1 776.0,1476.9 777.2,1476.8 C778.4,1476.7 782.0,1476.3 783.2,1476.1 C784.4,1476.0 788.0,1475.4 789.2,1475.2 C790.4,1475.0 794.0,1474.3 795.2,1474.1 C796.4,1473.9 800.0,1473.4 801.2,1473.2 C802.4,1473.1 806.0,1472.9 807.2,1472.8 C808.4,1472.7 812.0,1472.6 813.2,1472.5 C814.4,1472.4 818.1,1472.2 819.3,1472.1 C820.5,1472.1 824.1,1471.7 825.3,1471.6 C826.5,1471.5 830.1,1471.2 831.3,1471.1 C832.5,1471.0 836.1,1470.7 837.3,1470.6 C838.5,1470.5 842.1,1470.3 843.3,1470.2 C844.5,1470.2 848.1,1470.1 849.3,1470.0 C850.5,1470.0 854.1,1470.0 855.3,1470.0 C856.5,1469.9 860.1,1469.9 861.3,1469.8 C862.5,1469.8 866.1,1469.6 867.3,1469.6 C868.5,1469.5 872.1,1469.3 873.3,1469.2 C874.5,1469.1 878.1,1468.9 879.3,1468.8 C880.5,1468.7 884.1,1468.5 885.4,1468.5 C886.6,1468.4 890.2,1468.2 891.4,1468.1 C892.6,1468.1 896.2,1467.8 897.4,1467.7 C898.6,1467.6 902.2,1467.2 903.4,1467.0 C904.6,1466.9 908.2,1466.2 909.4,1466.0 C910.6,1465.8 914.2,1465.3 915.4,1465.2 C916.6,1465.1 920.2,1465.1 921.4,1465.1 C922.6,1465.1 926.2,1465.4 927.4,1465.5 C928.6,1465.5 932.2,1465.7 933.4,1465.7 C934.6,1465.8 938.2,1465.7 939.4,1465.7 C940.6,1465.7 944.2,1465.5 945.4,1465.5 C946.6,1465.4 950.2,1465.2 951.5,1465.2 C952.7,1465.1 956.3,1465.0 957.5,1465.0 C958.7,1464.9 962.3,1464.8 963.5,1464.8 C964.7,1464.8 968.3,1464.7 969.5,1464.7 C970.7,1464.7 974.3,1464.8 975.5,1464.8 C976.7,1464.8 980.3,1465.0 981.5,1465.1 C982.7,1465.2 986.3,1465.4 987.5,1465.5 C988.7,1465.6 992.3,1465.8 993.5,1465.8 C994.7,1465.9 998.3,1465.9 999.5,1465.9 C1000.7,1465.9 1004.3,1465.8 1005.5,1465.8 C1006.7,1465.8 1010.3,1465.6 1011.5,1465.6 C1012.7,1465.6 1016.3,1465.5 1017.5,1465.5 C1018.8,1465.5 1022.4,1465.6 1023.6,1465.7 C1024.8,1465.8 1028.4,1466.3 1029.6,1466.5 C1030.8,1466.7 1034.4,1467.4 1035.6,1467.6 C1036.8,1467.8 1040.4,1468.3 1041.6,1468.5 C1042.8,1468.6 1046.4,1469.0 1047.6,1469.1 C1048.8,1469.2 1052.4,1469.5 1053.6,1469.6 C1054.8,1469.7 1058.4,1470.0 1059.6,1470.0 C1060.8,1470.1 1064.4,1470.3 1065.6,1470.3 C1066.8,1470.3 1070.4,1470.4 1071.6,1470.4 C1072.8,1470.4 1076.4,1470.4 1077.6,1470.3 C1078.8,1470.3 1082.4,1470.3 1083.6,1470.3 C1084.8,1470.3 1088.5,1470.2 1089.7,1470.2 C1090.9,1470.2 1094.5,1470.2 1095.7,1470.2 C1096.9,1470.2 1100.5,1470.3 1101.7,1470.3 C1102.9,1470.4 1106.5,1470.8 1107.7,1471.0 C1108.9,1471.1 1112.5,1471.9 1113.7,1472.1 C1114.9,1472.3 1118.5,1473.0 1119.7,1473.1 C1120.9,1473.3 1124.5,1473.6 1125.7,1473.6 C1126.9,1473.7 1130.5,1473.7 1131.7,1473.7 C1132.9,1473.7 1136.5,1473.7 1137.7,1473.7 C1138.9,1473.8 1142.5,1473.7 1143.7,1473.7 C1144.9,1473.7 1148.5,1473.7 1149.7,1473.7 C1150.9,1473.7 1154.6,1473.7 1155.8,1473.7 C1157.0,1473.7 1160.6,1473.6 1161.8,1473.6 C1163.0,1473.6 1166.6,1473.5 1167.8,1473.5 C1169.0,1473.5 1172.6,1473.4 1173.8,1473.4 C1175.0,1473.4 1178.6,1473.3 1179.8,1473.3 C1181.0,1473.4 1184.6,1473.5 1185.8,1473.6 C1187.0,1473.8 1190.6,1474.4 1191.8,1474.6 C1193.0,1474.9 1196.6,1475.9 1197.8,1476.2 C1199.0,1476.5 1202.6,1477.2 1203.8,1477.4 C1205.0,1477.6 1208.6,1477.8 1209.8,1477.9 C1211.0,1477.9 1214.6,1478.0 1215.8,1478.0 C1217.0,1478.0 1220.7,1478.0 1221.9,1478.0 C1223.1,1478.0 1226.7,1478.0 1227.9,1478.0 C1229.1,1478.0 1232.7,1478.0 1233.9,1478.0 C1235.1,1478.0 1238.7,1478.1 1239.9,1478.1 C1241.1,1478.1 1244.7,1478.3 1245.9,1478.5 C1247.1,1478.6 1250.7,1479.1 1251.9,1479.3 C1253.1,1479.4 1256.7,1480.1 1257.9,1480.3 C1259.1,1480.4 1262.7,1480.8 1263.9,1480.9 C1265.1,1481.0 1268.7,1481.2 1269.9,1481.2 C1271.1,1481.2 1274.7,1481.2 1275.9,1481.2 C1277.1,1481.2 1280.7,1481.1 1281.9,1481.0 C1283.1,1481.0 1286.8,1480.9 1288.0,1480.8 C1289.2,1480.8 1292.8,1480.8 1294.0,1480.8 C1295.2,1480.9 1298.8,1481.3 1300.0,1481.5 C1301.2,1481.7 1304.8,1482.5 1306.0,1482.8 C1307.2,1483.0 1310.8,1483.7 1312.0,1483.9 C1313.2,1484.0 1316.8,1484.3 1318.0,1484.4 C1319.2,1484.4 1322.8,1484.5 1324.0,1484.5 C1325.2,1484.5 1328.8,1484.5 1330.0,1484.5 C1331.2,1484.5 1334.8,1484.6 1336.0,1484.6 C1337.2,1484.6 1340.8,1484.8 1342.0,1484.9 C1343.2,1485.0 1346.8,1485.3 1348.0,1485.5 C1349.2,1485.6 1352.8,1486.1 1354.1,1486.2 C1355.3,1486.4 1358.9,1486.7 1360.1,1486.8 C1361.3,1486.9 1364.9,1487.1 1366.1,1487.1 C1367.3,1487.2 1370.9,1487.3 1372.1,1487.3 C1373.3,1487.4 1376.9,1487.5 1378.1,1487.6 C1379.3,1487.7 1382.9,1488.0 1384.1,1488.1 C1385.3,1488.2 1388.9,1488.6 1390.1,1488.7 C1391.3,1488.9 1394.9,1489.3 1396.1,1489.5 C1397.3,1489.6 1400.9,1489.9 1402.1,1490.1 C1403.3,1490.2 1406.9,1490.4 1408.1,1490.5 C1409.3,1490.6 1412.9,1490.8 1414.1,1490.9 C1415.3,1491.0 1418.9,1491.3 1420.1,1491.4 C1421.4,1491.5 1425.0,1491.9 1426.2,1492.1 C1427.4,1492.2 1431.0,1492.7 1432.2,1492.8 C1433.4,1493.0 1437.0,1493.5 1438.2,1493.7 C1439.4,1493.8 1443.0,1494.3 1444.2,1494.5 C1445.4,1494.6 1449.0,1495.1 1450.2,1495.2 C1451.4,1495.3 1455.0,1495.6 1456.2,1495.7 C1457.4,1495.8 1461.0,1496.0 1462.2,1496.1 C1463.4,1496.2 1467.0,1496.4 1468.2,1496.5 C1469.4,1496.5 1473.0,1496.7 1474.2,1496.8 C1475.4,1496.9 1479.0,1497.1 1480.2,1497.1 C1481.4,1497.2 1485.0,1497.4 1486.2,1497.5 C1487.4,1497.6 1491.1,1497.9 1492.3,1498.1 C1493.5,1498.2 1497.1,1498.7 1498.3,1498.9 C1499.5,1499.1 1503.1,1499.7 1504.3,1499.8 C1505.5,1500.0 1509.1,1500.3 1510.3,1500.4 C1511.5,1500.5 1515.1,1500.5 1516.3,1500.5 C1517.5,1500.6 1521.1,1500.6 1522.3,1500.6 C1523.5,1500.7 1527.1,1500.9 1528.3,1501.0 C1529.5,1501.1 1533.1,1501.5 1534.3,1501.7 C1535.5,1501.8 1539.1,1502.3 1540.3,1502.4 C1541.5,1502.6 1545.1,1503.0 1546.3,1503.2 C1547.5,1503.3 1551.1,1503.8 1552.3,1503.9 C1553.5,1504.1 1557.2,1504.5 1558.4,1504.7 C1559.6,1504.8 1563.2,1505.2 1564.4,1505.4 C1565.6,1505.5 1569.2,1505.8 1570.4,1505.9 C1571.6,1506.0 1575.2,1506.3 1576.4,1506.3 C1577.6,1506.4 1581.2,1506.5 1582.4,1506.6 C1583.6,1506.6 1587.2,1506.7 1588.4,1506.7 C1589.6,1506.8 1593.2,1506.9 1594.4,1506.9 C1595.6,1506.9 1599.2,1507.0 1600.4,1507.1 C1601.6,1507.1 1605.2,1507.2 1606.4,1507.3 C1607.6,1507.4 1611.2,1507.6 1612.4,1507.7 C1613.6,1507.9 1617.2,1508.4 1618.4,1508.6 C1619.6,1508.7 1623.3,1509.3 1624.5,1509.5 C1625.7,1509.7 1629.3,1510.1 1630.5,1510.2 C1631.7,1510.3 1635.3,1510.4 1636.5,1510.4 C1637.7,1510.5 1641.3,1510.5 1642.5,1510.5 C1643.7,1510.5 1647.3,1510.5 1648.5,1510.5 C1649.7,1510.5 1653.3,1510.6 1654.5,1510.6 C1655.7,1510.7 1659.3,1510.9 1660.5,1510.9 C1661.7,1511.0 1665.3,1511.3 1666.5,1511.4 C1667.7,1511.5 1671.3,1511.8 1672.5,1511.9 C1673.7,1511.9 1677.3,1512.0 1678.5,1512.0 C1679.7,1512.1 1683.3,1512.0 1684.5,1512.0 C1685.7,1511.9 1689.4,1511.9 1690.6,1511.9 C1691.8,1511.9 1695.4,1512.2 1696.6,1512.3 C1697.8,1512.4 1701.4,1513.0 1702.6,1513.2 C1703.8,1513.4 1707.4,1514.0 1708.6,1514.1 C1709.8,1514.2 1713.4,1514.4 1714.6,1514.4 C1715.8,1514.5 1719.4,1514.4 1720.6,1514.4 C1721.8,1514.3 1725.4,1514.2 1726.6,1514.1 C1727.8,1514.1 1731.4,1514.0 1732.6,1514.0 C1733.8,1514.0 1737.4,1514.0 1738.6,1514.0 C1739.8,1514.0 1743.4,1514.1 1744.6,1514.1 C1745.8,1514.1 1749.4,1514.2 1750.6,1514.3 C1751.8,1514.3 1755.4,1514.4 1756.7,1514.4 C1757.9,1514.4 1761.5,1514.5 1762.7,1514.5 C1763.9,1514.5 1767.5,1514.5 1768.7,1514.5 C1769.9,1514.5 1773.5,1514.5 1774.7,1514.5 C1775.9,1514.5 1779.5,1514.5 1780.7,1514.5 C1781.9,1514.5 1785.5,1514.5 1786.7,1514.5 C1787.9,1514.5 1791.5,1514.5 1792.7,1514.5 C1793.9,1514.5 1797.5,1514.6 1798.7,1514.6 C1799.9,1514.6 1803.5,1514.7 1804.7,1514.7 C1805.9,1514.7 1809.5,1514.8 1810.7,1514.8 C1811.9,1514.8 1815.5,1514.9 1816.7,1514.9 C1817.9,1514.9 1821.5,1515.0 1822.7,1515.1 C1824.0,1515.1 1827.6,1515.2 1828.8,1515.2 C1830.0,1515.2 1833.6,1515.3 1834.8,1515.3 C1836.0,1515.4 1839.6,1515.5 1840.8,1515.5 C1842.0,1515.5 1845.6,1515.6 1846.8,1515.6 C1848.0,1515.7 1851.6,1515.8 1852.8,1515.8 C1854.0,1515.8 1857.6,1515.9 1858.8,1515.9 C1860.0,1516.0 1863.6,1516.0 1864.8,1516.1 C1866.0,1516.1 1869.6,1516.1 1870.8,1516.1 C1872.0,1516.1 1875.6,1516.1 1876.8,1516.1 C1878.0,1516.1 1881.6,1516.1 1882.8,1516.1 C1884.0,1516.1 1887.6,1516.0 1888.8,1516.0 C1890.0,1516.0 1893.7,1515.9 1894.9,1515.9 C1896.1,1515.9 1899.7,1515.8 1900.9,1515.8 C1902.1,1515.8 1905.7,1515.7 1906.9,1515.7 C1908.1,1515.7 1911.7,1515.6 1912.9,1515.6 C1914.1,1515.6 1917.7,1515.6 1918.9,1515.6 C1920.1,1515.5 1923.7,1515.5 1924.9,1515.5 C1926.1,1515.5 1929.7,1515.5 1930.9,1515.5 C1932.1,1515.5 1935.7,1515.5 1936.9,1515.5 C1938.1,1515.5 1941.7,1515.5 1942.9,1515.5 C1944.1,1515.5 1947.7,1515.5 1948.9,1515.5 C1950.1,1515.5 1953.7,1515.5 1954.9,1515.5 C1956.1,1515.5 1959.8,1515.5 1961.0,1515.5 C1962.2,1515.5 1965.8,1515.5 1967.0,1515.5 C1968.2,1515.5 1971.8,1515.5 1973.0,1515.5 C1974.2,1515.5 1977.8,1515.5 1979.0,1515.5 C1980.2,1515.5 1983.7,1515.5 1985.0,1515.5 C1986.3,1515.5 1991.3,1515.5 1992.0,1515.5"/>
<path stroke-width="4.3" d="M143.8,1711.1 C144.6,1711.1 150.8,1710.9 152.3,1710.9 C153.7,1710.8 157.1,1710.6 158.3,1710.6 C159.5,1710.5 163.1,1710.3 164.3,1710.2 C165.5,1710.2 169.1,1709.9 170.3,1709.9 C171.5,1709.8 175.1,1709.6 176.3,1709.5 C177.5,1709.5 181.1,1709.3 182.3,1709.2 C183.5,1709.1 187.1,1708.9 188.3,1708.9 C189.5,1708.8 193.1,1708.6 194.3,1708.5 C195.5,1708.5 199.1,1708.3 200.3,1708.2 C201.5,1708.2 205.1,1708.0 206.3,1707.9 C207.5,1707.9 211.1,1707.7 212.3,1707.6 C213.6,1707.6 217.2,1707.4 218.4,1707.3 C219.6,1707.3 223.2,1707.1 224.4,1707.0 C225.6,1707.0 229.2,1706.8 230.4,1706.7 C231.6,1706.7 235.2,1706.5 236.4,1706.4 C237.6,1706.4 241.2,1706.3 242.4,1706.2 C243.6,1706.2 247.2,1706.1 248.4,1706.0 C249.6,1706.0 253.2,1705.9 254.4,1705.9 C255.6,1705.9 259.2,1705.8 260.4,1705.7 C261.6,1705.7 265.2,1705.6 266.4,1705.6 C267.6,1705.6 271.2,1705.5 272.4,1705.4 C273.6,1705.4 277.2,1705.3 278.4,1705.3 C279.6,1705.3 283.3,1705.2 284.5,1705.1 C285.7,1705.1 289.3,1705.0 290.5,1705.0 C291.7,1704.9 295.3,1704.8 296.5,1704.7 C297.7,1704.7 301.3,1704.6 302.5,1704.5 C303.7,1704.5 307.3,1704.3 308.5,1704.3 C309.7,1704.2 313.3,1704.1 314.5,1704.0 C315.7,1704.0 319.3,1703.8 320.5,1703.7 C321.7,1703.6 325.3,1703.2 326.5,1703.1 C327.7,1703.0 331.3,1702.5 332.5,1702.3 C333.7,1702.2 337.3,1701.8 338.5,1701.7 C339.7,1701.6 343.3,1701.5 344.5,1701.5 C345.7,1701.5 349.4,1701.7 350.6,1701.7 C351.8,1701.7 355.4,1701.9 356.6,1701.9 C357.8,1702.0 361.4,1702.1 362.6,1702.2 C363.8,1702.2 367.4,1702.3 368.6,1702.3 C369.8,1702.3 373.4,1702.1 374.6,1702.1 C375.8,1702.0 379.4,1701.8 380.6,1701.7 C381.8,1701.6 385.4,1701.3 386.6,1701.2 C387.8,1701.1 391.4,1700.9 392.6,1700.8 C393.8,1700.7 397.4,1700.4 398.6,1700.2 C399.8,1700.1 403.4,1699.6 404.6,1699.4 C405.8,1699.3 409.4,1698.6 410.6,1698.5 C411.8,1698.3 415.5,1697.9 416.7,1697.8 C417.9,1697.7 421.5,1697.6 422.7,1697.5 C423.9,1697.5 427.5,1697.5 428.7,1697.5 C429.9,1697.5 433.5,1697.5 434.7,1697.5 C435.9,1697.4 439.5,1697.3 440.7,1697.2 C441.9,1697.1 445.5,1696.8 446.7,1696.7 C447.9,1696.5 451.5,1696.1 452.7,1696.0 C453.9,1695.8 457.5,1695.4 458.7,1695.3 C459.9,1695.1 463.5,1694.7 464.7,1694.5 C465.9,1694.4 469.5,1694.0 470.7,1693.8 C471.9,1693.7 475.5,1693.2 476.7,1693.0 C477.9,1692.9 481.5,1692.3 482.8,1692.2 C484.0,1692.0 487.6,1691.5 488.8,1691.3 C490.0,1691.2 493.6,1690.8 494.8,1690.7 C496.0,1690.5 499.6,1690.2 500.8,1690.1 C502.0,1690.0 505.6,1689.8 506.8,1689.7 C508.0,1689.6 511.6,1689.3 512.8,1689.2 C514.0,1689.1 517.6,1688.8 518.8,1688.7 C520.0,1688.6 523.6,1688.3 524.8,1688.2 C526.0,1688.1 529.6,1687.8 530.8,1687.7 C532.0,1687.6 535.6,1687.4 536.8,1687.3 C538.0,1687.2 541.6,1686.9 542.8,1686.8 C544.0,1686.7 547.6,1686.4 548.9,1686.3 C550.1,1686.3 553.7,1686.0 554.9,1685.9 C556.1,1685.8 559.7,1685.5 560.9,1685.4 C562.1,1685.3 565.7,1685.0 566.9,1684.8 C568.1,1684.7 571.7,1684.2 572.9,1684.0 C574.1,1683.8 577.7,1683.2 578.9,1683.0 C580.1,1682.8 583.7,1682.2 584.9,1681.9 C586.1,1681.7 589.7,1681.1 590.9,1680.8 C592.1,1680.6 595.7,1679.9 596.9,1679.6 C598.1,1679.3 601.7,1678.5 602.9,1678.2 C604.1,1678.0 607.7,1677.1 608.9,1676.9 C610.1,1676.6 613.7,1675.7 614.9,1675.4 C616.2,1675.2 619.8,1674.3 621.0,1674.0 C622.2,1673.7 625.8,1672.8 627.0,1672.5 C628.2,1672.2 631.8,1671.3 633.0,1671.0 C634.2,1670.7 637.8,1669.8 639.0,1669.5 C640.2,1669.2 643.8,1668.3 645.0,1667.8 C646.2,1667.4 649.8,1665.9 651.0,1665.2 C652.2,1664.4 655.8,1661.5 657.0,1660.5 C658.2,1659.5 661.8,1656.2 663.0,1655.3 C664.2,1654.5 667.8,1652.2 669.0,1651.8 C670.2,1651.3 674.0,1651.0 675.0,1651.0 C676.1,1650.9 678.2,1650.3 679.5,1651.2 C680.8,1652.2 685.5,1659.1 688.2,1660.0 C691.0,1660.9 702.9,1660.1 707.0,1660.0 C711.1,1659.9 725.5,1659.1 729.5,1658.8 C733.5,1658.4 744.8,1656.6 747.1,1656.3 C749.5,1655.9 752.0,1655.6 753.2,1655.5 C754.4,1655.3 758.0,1654.9 759.2,1654.7 C760.4,1654.5 764.0,1654.0 765.2,1653.7 C766.4,1653.5 770.0,1652.6 771.2,1652.2 C772.4,1651.9 776.0,1650.8 777.2,1650.5 C778.4,1650.2 782.0,1649.4 783.2,1649.2 C784.4,1649.1 788.0,1648.9 789.2,1648.8 C790.4,1648.8 794.0,1648.8 795.2,1648.7 C796.4,1648.7 800.0,1648.7 801.2,1648.6 C802.4,1648.6 806.0,1648.4 807.2,1648.2 C808.4,1648.1 812.0,1647.7 813.2,1647.6 C814.4,1647.5 818.1,1647.2 819.3,1647.1 C820.5,1647.1 824.1,1647.0 825.3,1646.9 C826.5,1646.9 830.1,1646.6 831.3,1646.5 C832.5,1646.3 836.1,1645.5 837.3,1645.3 C838.5,1645.1 842.1,1644.3 843.3,1644.1 C844.5,1643.9 848.1,1643.6 849.3,1643.5 C850.5,1643.5 854.1,1643.3 855.3,1643.3 C856.5,1643.2 860.1,1643.1 861.3,1643.1 C862.5,1643.0 866.1,1642.9 867.3,1642.8 C868.5,1642.8 872.1,1642.5 873.3,1642.4 C874.5,1642.3 878.1,1641.6 879.3,1641.4 C880.5,1641.2 884.1,1640.4 885.4,1640.2 C886.6,1640.1 890.2,1640.0 891.4,1640.0 C892.6,1640.0 896.2,1640.1 897.4,1640.2 C898.6,1640.3 902.2,1640.5 903.4,1640.5 C904.6,1640.6 908.2,1640.8 909.4,1640.8 C910.6,1640.9 914.2,1641.0 915.4,1641.0 C916.6,1641.0 920.2,1640.8 921.4,1640.7 C922.6,1640.7 926.2,1640.3 927.4,1640.2 C928.6,1640.1 932.2,1639.7 933.4,1639.6 C934.6,1639.5 938.2,1639.2 939.4,1639.1 C940.6,1639.0 944.2,1638.8 945.4,1638.7 C946.6,1638.6 950.2,1638.5 951.5,1638.5 C952.7,1638.4 956.3,1638.3 957.5,1638.3 C958.7,1638.2 962.3,1638.1 963.5,1638.1 C964.7,1638.0 968.3,1637.9 969.5,1637.8 C970.7,1637.7 974.3,1637.5 975.5,1637.4 C976.7,1637.4 980.3,1637.1 981.5,1637.1 C982.7,1637.0 986.3,1636.6 987.5,1636.5 C988.8,1636.5 991.6,1637.4 994.0,1636.2 C996.4,1635.1 1008.9,1627.1 1011.5,1625.0 C1014.1,1622.9 1018.9,1616.4 1020.2,1615.0 C1021.6,1613.6 1024.1,1611.2 1025.2,1611.2 C1026.4,1611.2 1030.0,1613.2 1031.5,1615.0 C1033.0,1616.8 1038.0,1626.5 1040.2,1628.8 C1042.5,1631.0 1051.5,1636.4 1054.0,1637.5 C1056.5,1638.6 1063.9,1639.2 1065.6,1639.6 C1067.4,1640.0 1070.4,1640.9 1071.6,1641.2 C1072.8,1641.5 1076.4,1642.3 1077.6,1642.4 C1078.8,1642.5 1082.4,1642.3 1083.6,1642.3 C1084.8,1642.2 1088.5,1642.1 1089.7,1642.1 C1090.9,1642.2 1094.5,1642.6 1095.7,1642.8 C1096.9,1642.9 1100.5,1643.3 1101.7,1643.4 C1102.9,1643.5 1106.5,1643.7 1107.7,1643.7 C1108.9,1643.7 1112.5,1643.6 1113.7,1643.5 C1114.9,1643.4 1118.5,1642.9 1119.7,1642.8 C1120.9,1642.8 1124.5,1642.6 1125.7,1642.8 C1126.9,1642.9 1130.5,1643.8 1131.7,1644.1 C1132.9,1644.4 1136.5,1645.5 1137.7,1645.8 C1138.9,1646.2 1142.5,1647.1 1143.7,1647.3 C1144.9,1647.6 1148.5,1648.2 1149.7,1648.3 C1150.9,1648.5 1154.6,1648.7 1155.8,1648.7 C1157.0,1648.7 1160.6,1648.7 1161.8,1648.7 C1163.0,1648.7 1166.6,1648.7 1167.8,1648.7 C1169.0,1648.6 1172.6,1648.5 1173.8,1648.4 C1175.0,1648.4 1178.6,1648.1 1179.8,1648.1 C1181.0,1648.0 1184.6,1647.8 1185.8,1647.7 C1187.0,1647.6 1190.6,1647.3 1191.8,1647.2 C1193.0,1647.1 1196.6,1646.9 1197.8,1647.0 C1199.0,1647.0 1202.6,1647.4 1203.8,1647.7 C1205.0,1648.0 1208.6,1649.2 1209.8,1649.5 C1211.0,1649.9 1214.6,1651.1 1215.8,1651.4 C1217.0,1651.8 1220.7,1652.6 1221.9,1652.9 C1223.1,1653.2 1226.7,1653.9 1227.9,1654.2 C1229.1,1654.4 1232.7,1655.0 1233.9,1655.2 C1235.1,1655.4 1238.7,1655.9 1239.9,1656.0 C1241.1,1656.2 1244.7,1656.6 1245.9,1656.8 C1247.1,1656.9 1250.7,1657.2 1251.9,1657.3 C1253.1,1657.3 1256.7,1657.4 1257.9,1657.5 C1259.1,1657.5 1262.7,1657.5 1263.9,1657.5 C1265.1,1657.5 1268.7,1657.6 1269.9,1657.7 C1271.1,1657.7 1274.7,1657.9 1275.9,1657.9 C1277.1,1658.0 1280.7,1658.2 1281.9,1658.3 C1283.1,1658.3 1286.8,1658.5 1288.0,1658.5 C1289.2,1658.5 1292.8,1658.3 1294.0,1658.3 C1295.2,1658.2 1298.8,1657.8 1300.0,1657.7 C1301.2,1657.5 1304.8,1656.7 1306.0,1656.5 C1307.2,1656.2 1310.8,1655.1 1312.0,1654.9 C1313.2,1654.7 1316.8,1654.1 1318.0,1654.1 C1319.2,1654.1 1322.8,1654.5 1324.0,1654.7 C1325.2,1655.0 1328.8,1656.3 1330.0,1656.8 C1331.2,1657.3 1334.8,1658.9 1336.0,1659.3 C1337.2,1659.8 1340.8,1661.1 1342.0,1661.4 C1343.2,1661.7 1346.8,1662.4 1348.0,1662.6 C1349.2,1662.7 1352.8,1663.0 1354.1,1663.1 C1355.3,1663.2 1358.9,1663.5 1360.1,1663.6 C1361.3,1663.7 1364.9,1664.1 1366.1,1664.2 C1367.3,1664.4 1370.9,1664.9 1372.1,1665.1 C1373.3,1665.3 1376.9,1665.8 1378.1,1666.0 C1379.3,1666.2 1382.9,1666.6 1384.1,1666.8 C1385.3,1667.0 1388.9,1667.5 1390.1,1667.7 C1391.3,1668.0 1394.9,1668.9 1396.1,1669.2 C1397.3,1669.5 1400.9,1670.4 1402.1,1670.6 C1403.3,1670.8 1406.9,1671.1 1408.1,1671.2 C1409.3,1671.2 1412.9,1671.2 1414.1,1671.3 C1415.3,1671.3 1418.9,1671.4 1420.1,1671.4 C1421.4,1671.5 1425.0,1671.7 1426.2,1671.8 C1427.4,1671.9 1431.0,1672.2 1432.2,1672.4 C1433.4,1672.5 1437.0,1672.9 1438.2,1673.0 C1439.4,1673.2 1443.0,1673.8 1444.2,1674.0 C1445.4,1674.3 1449.0,1675.4 1450.2,1675.8 C1451.4,1676.1 1455.0,1677.1 1456.2,1677.4 C1457.4,1677.6 1461.0,1678.1 1462.2,1678.2 C1463.4,1678.3 1467.0,1678.6 1468.2,1678.7 C1469.4,1678.8 1473.0,1679.1 1474.2,1679.2 C1475.4,1679.3 1479.0,1679.7 1480.2,1679.8 C1481.4,1680.0 1485.0,1680.5 1486.2,1680.7 C1487.4,1681.0 1491.1,1681.7 1492.3,1682.0 C1493.5,1682.2 1497.1,1683.0 1498.3,1683.2 C1499.5,1683.4 1503.1,1683.9 1504.3,1684.0 C1505.5,1684.1 1509.1,1684.2 1510.3,1684.2 C1511.5,1684.2 1515.1,1684.0 1516.3,1684.0 C1517.5,1684.0 1521.1,1684.0 1522.3,1684.1 C1523.5,1684.1 1527.1,1684.4 1528.3,1684.5 C1529.5,1684.6 1533.1,1685.0 1534.3,1685.1 C1535.5,1685.2 1539.1,1685.6 1540.3,1685.7 C1541.5,1685.8 1545.1,1686.1 1546.3,1686.1 C1547.5,1686.2 1551.1,1686.4 1552.3,1686.4 C1553.5,1686.5 1557.2,1686.6 1558.4,1686.7 C1559.6,1686.7 1563.2,1686.9 1564.4,1687.0 C1565.6,1687.2 1569.2,1687.7 1570.4,1688.0 C1571.6,1688.3 1575.2,1689.3 1576.4,1689.7 C1577.6,1690.1 1581.2,1691.2 1582.4,1691.6 C1583.6,1692.0 1587.2,1693.0 1588.4,1693.3 C1589.6,1693.5 1593.2,1694.1 1594.4,1694.1 C1595.6,1694.2 1599.2,1694.0 1600.4,1693.9 C1601.6,1693.9 1605.2,1693.7 1606.4,1693.8 C1607.6,1693.8 1611.2,1694.3 1612.4,1694.5 C1613.6,1694.7 1617.2,1695.4 1618.4,1695.6 C1619.6,1695.8 1623.3,1696.5 1624.5,1696.6 C1625.7,1696.8 1629.3,1697.3 1630.5,1697.5 C1631.7,1697.6 1635.3,1698.1 1636.5,1698.3 C1637.7,1698.4 1641.3,1698.9 1642.5,1699.0 C1643.7,1699.1 1647.3,1699.5 1648.5,1699.6 C1649.7,1699.7 1653.3,1700.0 1654.5,1700.1 C1655.7,1700.2 1659.3,1700.4 1660.5,1700.5 C1661.7,1700.6 1665.3,1700.8 1666.5,1700.9 C1667.7,1701.0 1671.3,1701.2 1672.5,1701.3 C1673.7,1701.4 1677.3,1701.5 1678.5,1701.6 C1679.7,1701.7 1683.3,1701.8 1684.5,1701.9 C1685.7,1701.9 1689.4,1702.1 1690.6,1702.2 C1691.8,1702.2 1695.4,1702.4 1696.6,1702.4 C1697.8,1702.5 1701.4,1702.7 1702.6,1702.7 C1703.8,1702.8 1707.4,1703.0 1708.6,1703.1 C1709.8,1703.1 1713.4,1703.4 1714.6,1703.5 C1715.8,1703.6 1719.4,1703.9 1720.6,1704.0 C1721.8,1704.1 1725.4,1704.3 1726.6,1704.4 C1727.8,1704.5 1731.4,1704.8 1732.6,1704.8 C1733.8,1704.9 1737.4,1705.0 1738.6,1705.0 C1739.8,1705.1 1743.4,1705.1 1744.6,1705.1 C1745.8,1705.2 1749.4,1705.2 1750.6,1705.2 C1751.8,1705.2 1755.4,1705.3 1756.7,1705.3 C1757.9,1705.3 1761.5,1705.4 1762.7,1705.4 C1763.9,1705.4 1767.5,1705.4 1768.7,1705.5 C1769.9,1705.5 1773.5,1705.5 1774.7,1705.5 C1775.9,1705.5 1779.5,1705.5 1780.7,1705.5 C1781.9,1705.5 1785.5,1705.5 1786.7,1705.4 C1787.9,1705.4 1791.5,1705.1 1792.7,1705.0 C1793.9,1704.9 1797.5,1704.5 1798.7,1704.4 C1799.9,1704.3 1803.5,1704.2 1804.7,1704.2 C1805.9,1704.3 1809.5,1704.5 1810.7,1704.6 C1811.9,1704.7 1815.5,1705.0 1816.7,1705.1 C1817.9,1705.2 1821.5,1705.5 1822.7,1705.6 C1824.0,1705.7 1827.6,1705.9 1828.8,1706.0 C1830.0,1706.1 1833.6,1706.3 1834.8,1706.4 C1836.0,1706.5 1839.6,1706.7 1840.8,1706.8 C1842.0,1706.9 1845.6,1707.1 1846.8,1707.2 C1848.0,1707.3 1851.6,1707.6 1852.8,1707.7 C1854.0,1707.8 1857.6,1708.1 1858.8,1708.3 C1860.0,1708.4 1863.6,1709.0 1864.8,1709.2 C1866.0,1709.3 1869.6,1709.5 1870.8,1709.5 C1872.0,1709.4 1875.6,1708.7 1876.8,1708.4 C1878.0,1708.2 1881.6,1707.3 1882.8,1707.1 C1884.0,1706.9 1887.6,1706.5 1888.8,1706.5 C1890.0,1706.4 1893.7,1706.5 1894.9,1706.5 C1896.1,1706.5 1899.7,1706.6 1900.9,1706.6 C1902.1,1706.6 1905.7,1706.7 1906.9,1706.7 C1908.1,1706.7 1911.7,1706.8 1912.9,1706.8 C1914.1,1706.8 1917.7,1706.8 1918.9,1706.8 C1920.1,1706.7 1923.7,1706.4 1924.9,1706.3 C1926.1,1706.1 1929.7,1705.6 1930.9,1705.4 C1932.1,1705.2 1935.7,1704.7 1936.9,1704.6 C1938.1,1704.5 1941.7,1704.4 1942.9,1704.4 C1944.1,1704.4 1947.7,1704.8 1948.9,1704.9 C1950.1,1705.0 1953.7,1705.5 1954.9,1705.6 C1956.1,1705.8 1959.8,1706.0 1961.0,1706.1 C1962.2,1706.2 1965.8,1706.2 1967.0,1706.2 C1968.2,1706.3 1971.8,1706.2 1973.0,1706.2 C1974.2,1706.3 1977.8,1706.2 1979.0,1706.2 C1980.2,1706.3 1983.7,1706.2 1985.0,1706.2 C1986.3,1706.2 1991.3,1706.2 1992.0,1706.2"/>
<path stroke-width="4.3" d="M143.8,2011.4 C144.6,2011.5 150.8,2011.7 152.3,2011.8 C153.7,2011.9 157.1,2012.1 158.3,2012.1 C159.5,2012.1 163.1,2012.1 164.3,2012.0 C165.5,2012.0 169.1,2011.7 170.3,2011.6 C171.5,2011.5 175.1,2011.2 176.3,2011.1 C177.5,2011.0 181.1,2010.7 182.3,2010.7 C183.5,2010.6 187.1,2010.3 188.3,2010.2 C189.5,2010.2 193.1,2010.1 194.3,2010.0 C195.5,2010.0 199.1,2010.0 200.3,2010.0 C201.5,2010.0 205.1,2010.0 206.3,2010.0 C207.5,2010.0 211.1,2010.0 212.3,2010.0 C213.6,2010.0 217.2,2010.0 218.4,2010.0 C219.6,2010.0 223.2,2010.0 224.4,2010.0 C225.6,2009.9 229.2,2009.9 230.4,2009.8 C231.6,2009.8 235.2,2009.6 236.4,2009.6 C237.6,2009.5 241.2,2009.3 242.4,2009.3 C243.6,2009.2 247.2,2009.0 248.4,2008.9 C249.6,2008.8 253.2,2008.5 254.4,2008.3 C255.6,2008.2 259.2,2007.7 260.4,2007.5 C261.6,2007.4 265.2,2006.8 266.4,2006.7 C267.6,2006.5 271.2,2005.9 272.4,2005.8 C273.6,2005.6 277.2,2005.1 278.4,2005.0 C279.6,2004.8 283.3,2004.4 284.5,2004.3 C285.7,2004.2 289.3,2003.8 290.5,2003.7 C291.7,2003.6 295.3,2003.2 296.5,2003.1 C297.7,2002.9 301.3,2002.5 302.5,2002.3 C303.7,2002.1 307.3,2001.5 308.5,2001.3 C309.7,2001.1 313.3,2000.3 314.5,2000.1 C315.7,1999.9 319.3,1999.1 320.5,1998.9 C321.7,1998.7 325.3,1998.0 326.5,1997.9 C327.7,1997.7 331.3,1997.2 332.5,1997.0 C333.7,1996.9 337.3,1996.5 338.5,1996.4 C339.7,1996.3 343.3,1995.9 344.5,1995.8 C345.7,1995.7 349.4,1995.2 350.6,1995.1 C351.8,1994.9 355.4,1994.3 356.6,1994.1 C357.8,1993.9 361.4,1993.2 362.6,1993.0 C363.8,1992.7 367.4,1992.0 368.6,1991.8 C369.8,1991.6 373.4,1990.9 374.6,1990.7 C375.8,1990.5 379.4,1989.9 380.6,1989.8 C381.8,1989.6 385.4,1989.2 386.6,1989.1 C387.8,1989.0 391.4,1988.6 392.6,1988.5 C393.8,1988.4 397.4,1988.0 398.6,1987.8 C399.8,1987.7 403.4,1987.2 404.6,1987.0 C405.8,1986.8 409.4,1986.1 410.6,1985.9 C411.8,1985.7 415.5,1985.0 416.7,1984.8 C417.9,1984.6 421.5,1984.0 422.7,1983.9 C423.9,1983.7 427.5,1983.1 428.7,1982.9 C429.9,1982.8 433.5,1982.2 434.7,1982.0 C435.9,1981.9 439.5,1981.3 440.7,1981.1 C441.9,1980.9 445.5,1980.3 446.7,1980.1 C447.9,1979.9 451.5,1979.2 452.7,1979.0 C453.9,1978.8 457.5,1978.2 458.7,1978.0 C459.9,1977.8 463.5,1977.1 464.7,1976.9 C465.9,1976.7 469.5,1976.1 470.7,1975.9 C471.9,1975.7 475.5,1975.0 476.7,1974.8 C477.9,1974.6 481.5,1974.0 482.8,1973.8 C484.0,1973.5 487.6,1972.8 488.8,1972.6 C490.0,1972.3 493.6,1971.5 494.8,1971.2 C496.0,1970.9 499.6,1969.9 500.8,1969.6 C502.0,1969.3 505.6,1968.3 506.8,1968.0 C508.0,1967.7 511.6,1966.7 512.8,1966.4 C514.0,1966.1 517.6,1965.1 518.8,1964.8 C520.0,1964.5 523.6,1963.5 524.8,1963.1 C526.0,1962.8 529.6,1961.7 530.8,1961.3 C532.0,1960.9 535.6,1959.6 536.8,1959.2 C538.0,1958.8 541.6,1957.5 542.8,1957.1 C544.0,1956.7 547.6,1955.5 548.9,1955.1 C550.1,1954.7 553.7,1953.6 554.9,1953.2 C556.1,1952.9 559.7,1951.9 560.9,1951.6 C562.1,1951.2 565.7,1950.2 566.9,1949.9 C568.1,1949.5 571.7,1948.4 572.9,1948.0 C574.1,1947.6 577.7,1946.4 578.9,1946.0 C580.1,1945.5 583.7,1944.2 584.9,1943.7 C586.1,1943.2 589.7,1941.7 590.9,1941.2 C592.1,1940.6 595.7,1939.0 596.9,1938.3 C598.1,1937.7 601.4,1935.8 602.9,1934.9 C604.4,1933.9 609.8,1930.6 612.0,1928.8 C614.2,1926.9 622.5,1918.9 624.5,1916.2 C626.5,1913.6 630.5,1906.4 632.0,1902.5 C633.5,1898.6 638.2,1880.9 639.5,1877.5 C640.8,1874.1 643.4,1869.6 644.5,1868.8 C645.6,1867.9 649.5,1867.6 650.8,1868.8 C652.0,1869.9 655.8,1877.4 657.0,1880.0 C658.2,1882.6 662.0,1893.0 663.2,1895.0 C664.5,1897.0 667.9,1899.4 669.5,1900.0 C671.1,1900.6 677.5,1900.6 679.5,1901.2 C681.5,1901.9 688.1,1905.8 689.5,1906.2 C690.9,1906.7 692.1,1905.7 693.1,1905.6 C694.0,1905.5 697.9,1905.6 699.1,1905.5 C700.3,1905.5 703.9,1905.2 705.1,1905.1 C706.3,1905.0 709.9,1904.6 711.1,1904.5 C712.3,1904.3 715.9,1903.9 717.1,1903.7 C718.3,1903.6 721.9,1903.1 723.1,1903.0 C724.3,1902.9 727.9,1902.5 729.1,1902.4 C730.3,1902.2 733.9,1901.9 735.1,1901.7 C736.3,1901.6 739.9,1901.0 741.1,1900.7 C742.3,1900.4 745.9,1899.1 747.1,1898.7 C748.3,1898.3 752.0,1897.1 753.2,1896.8 C754.4,1896.5 758.0,1896.0 759.2,1895.9 C760.4,1895.7 764.0,1895.5 765.2,1895.3 C766.4,1895.1 770.0,1894.5 771.2,1894.1 C772.4,1893.8 776.0,1892.3 777.2,1892.0 C778.4,1891.6 782.0,1890.5 783.2,1890.2 C784.4,1890.0 788.0,1889.6 789.2,1889.5 C790.4,1889.4 794.0,1889.3 795.2,1889.2 C796.4,1889.1 800.0,1888.9 801.2,1888.8 C802.4,1888.7 806.0,1888.2 807.2,1888.1 C808.4,1887.9 812.0,1887.2 813.2,1887.0 C814.4,1886.8 818.1,1886.2 819.3,1886.0 C820.5,1885.9 824.1,1885.4 825.3,1885.2 C826.5,1885.1 830.1,1884.6 831.3,1884.4 C832.5,1884.1 836.1,1883.3 837.3,1882.9 C838.5,1882.5 842.1,1881.1 843.3,1880.6 C844.5,1880.1 848.1,1878.4 849.3,1878.0 C850.5,1877.5 854.1,1876.2 855.3,1875.8 C856.5,1875.4 860.1,1874.4 861.3,1874.1 C862.5,1873.9 866.1,1873.2 867.3,1873.1 C868.5,1873.1 872.1,1873.3 873.3,1873.5 C874.5,1873.8 878.1,1874.9 879.3,1875.3 C880.5,1875.8 884.1,1877.4 885.4,1877.8 C886.6,1878.3 890.2,1879.7 891.4,1880.1 C892.6,1880.4 896.2,1881.1 897.4,1881.1 C898.6,1881.1 902.2,1880.5 903.4,1880.2 C904.6,1880.0 908.2,1878.8 909.4,1878.6 C910.6,1878.3 914.2,1878.0 915.4,1878.0 C916.6,1877.9 920.2,1878.1 921.4,1878.1 C922.6,1878.2 926.2,1878.4 927.4,1878.5 C928.6,1878.5 932.2,1878.8 933.4,1878.8 C934.6,1878.9 938.0,1879.2 939.4,1879.3 C940.9,1879.4 945.5,1880.5 947.7,1880.2 C949.9,1879.8 959.4,1877.0 961.6,1876.0 C963.8,1875.0 968.5,1872.0 969.9,1870.5 C971.3,1868.9 974.5,1863.2 975.4,1860.8 C976.4,1858.3 978.9,1849.1 979.6,1845.5 C980.3,1841.9 981.8,1828.9 982.4,1824.7 C982.9,1820.6 984.6,1807.8 985.1,1803.9 C985.7,1800.1 987.3,1789.4 987.9,1785.9 C988.5,1782.5 990.4,1772.3 991.1,1769.3 C991.8,1766.2 994.2,1757.9 995.0,1755.4 C995.7,1753.0 997.8,1746.6 998.4,1745.0 C999.1,1743.5 1001.2,1740.5 1001.8,1739.9 C1002.4,1739.3 1004.0,1738.7 1004.5,1738.8 C1005.1,1738.9 1007.0,1740.0 1007.6,1741.0 C1008.2,1742.0 1010.0,1746.4 1010.5,1748.5 C1011.0,1750.6 1012.3,1758.9 1012.8,1762.4 C1013.4,1765.8 1015.1,1779.0 1015.6,1783.1 C1016.2,1787.3 1017.9,1800.1 1018.4,1803.9 C1018.9,1807.8 1020.0,1818.5 1020.5,1822.0 C1021.0,1825.4 1022.6,1835.5 1023.2,1838.6 C1023.9,1841.6 1025.9,1849.8 1026.7,1852.4 C1027.5,1855.1 1029.9,1862.6 1030.9,1864.9 C1031.8,1867.3 1035.3,1874.2 1036.4,1876.0 C1037.5,1877.8 1040.7,1881.7 1042.0,1882.9 C1043.2,1884.1 1047.2,1886.9 1048.9,1887.8 C1050.5,1888.6 1056.8,1890.5 1058.6,1891.2 C1060.4,1892.0 1065.0,1894.9 1066.9,1895.4 C1068.8,1895.9 1076.3,1895.9 1078.0,1896.1 C1079.7,1896.2 1082.5,1896.7 1083.6,1896.9 C1084.8,1897.1 1088.5,1897.8 1089.7,1898.1 C1090.9,1898.4 1094.5,1899.6 1095.7,1900.0 C1096.9,1900.4 1100.5,1901.6 1101.7,1902.0 C1102.9,1902.4 1106.5,1903.5 1107.7,1903.9 C1108.9,1904.2 1112.5,1905.1 1113.7,1905.3 C1114.9,1905.5 1118.5,1906.0 1119.7,1906.1 C1120.9,1906.2 1124.5,1906.3 1125.7,1906.2 C1126.9,1906.2 1130.5,1905.8 1131.7,1905.5 C1132.9,1905.3 1136.0,1904.5 1137.7,1903.9 C1139.5,1903.4 1147.1,1901.1 1149.0,1900.0 C1150.9,1898.9 1154.8,1894.4 1156.5,1892.5 C1158.2,1890.6 1164.5,1882.8 1166.5,1881.2 C1168.5,1879.7 1174.5,1877.0 1176.5,1877.0 C1178.5,1877.0 1184.8,1879.7 1186.5,1881.2 C1188.2,1882.8 1192.5,1890.0 1194.0,1892.5 C1195.5,1895.0 1199.8,1904.0 1201.5,1906.2 C1203.2,1908.5 1210.1,1913.9 1211.5,1915.0 C1212.9,1916.1 1214.8,1916.8 1215.8,1917.4 C1216.9,1918.0 1220.7,1920.1 1221.9,1920.7 C1223.1,1921.2 1226.7,1922.4 1227.9,1922.7 C1229.1,1923.0 1232.7,1923.5 1233.9,1923.7 C1235.1,1923.9 1238.7,1924.3 1239.9,1924.4 C1241.1,1924.5 1244.7,1924.6 1245.9,1924.7 C1247.1,1924.7 1250.7,1924.5 1251.9,1924.5 C1253.1,1924.4 1256.7,1924.2 1257.9,1924.1 C1259.1,1924.1 1261.9,1923.8 1264.0,1923.8 C1266.1,1923.7 1276.8,1924.5 1279.0,1923.8 C1281.2,1923.0 1284.2,1917.4 1286.5,1916.2 C1288.8,1915.1 1299.2,1912.4 1301.5,1912.5 C1303.8,1912.6 1307.5,1916.1 1309.0,1917.5 C1310.5,1918.9 1314.8,1924.8 1316.5,1926.2 C1318.2,1927.8 1324.5,1931.5 1326.5,1932.5 C1328.5,1933.5 1334.5,1935.7 1336.0,1936.4 C1337.6,1937.0 1340.8,1938.5 1342.0,1939.1 C1343.2,1939.6 1346.8,1941.3 1348.0,1941.8 C1349.2,1942.3 1352.8,1943.7 1354.1,1944.1 C1355.3,1944.6 1358.9,1945.8 1360.1,1946.2 C1361.3,1946.6 1364.9,1947.8 1366.1,1948.2 C1367.3,1948.6 1370.9,1949.8 1372.1,1950.1 C1373.3,1950.5 1376.9,1951.5 1378.1,1951.8 C1379.3,1952.1 1382.9,1952.7 1384.1,1952.9 C1385.3,1953.1 1388.9,1953.5 1390.1,1953.6 C1391.3,1953.7 1394.9,1954.0 1396.1,1954.1 C1397.3,1954.2 1400.9,1954.3 1402.1,1954.3 C1403.3,1954.3 1406.9,1954.2 1408.1,1954.2 C1409.3,1954.1 1412.9,1954.0 1414.1,1954.0 C1415.3,1953.9 1418.9,1953.7 1420.1,1953.7 C1421.4,1953.6 1425.0,1953.4 1426.2,1953.5 C1427.4,1953.6 1431.0,1954.4 1432.2,1954.9 C1433.4,1955.4 1437.0,1957.9 1438.2,1958.6 C1439.4,1959.4 1443.0,1962.1 1444.2,1962.7 C1445.4,1963.3 1449.0,1964.4 1450.2,1964.6 C1451.4,1964.9 1455.0,1965.0 1456.2,1965.1 C1457.4,1965.2 1461.0,1965.8 1462.2,1966.1 C1463.4,1966.3 1467.0,1967.5 1468.2,1967.8 C1469.4,1968.2 1473.0,1969.3 1474.2,1969.6 C1475.4,1969.9 1479.0,1970.7 1480.2,1970.9 C1481.4,1971.1 1485.0,1971.6 1486.2,1971.8 C1487.4,1972.0 1491.1,1972.4 1492.3,1972.6 C1493.5,1972.8 1497.1,1973.5 1498.3,1973.8 C1499.5,1974.0 1503.1,1974.9 1504.3,1975.2 C1505.5,1975.5 1509.1,1976.4 1510.3,1976.6 C1511.5,1976.9 1515.1,1977.5 1516.3,1977.6 C1517.5,1977.7 1521.1,1977.7 1522.3,1977.6 C1523.5,1977.5 1527.1,1976.8 1528.3,1976.6 C1529.5,1976.4 1533.1,1975.8 1534.3,1975.7 C1535.5,1975.7 1539.1,1975.6 1540.3,1975.7 C1541.5,1975.9 1545.1,1976.6 1546.3,1977.0 C1547.5,1977.4 1551.1,1979.3 1552.3,1980.0 C1553.5,1980.6 1557.2,1982.9 1558.4,1983.6 C1559.6,1984.3 1563.2,1986.3 1564.4,1986.9 C1565.6,1987.4 1569.2,1989.1 1570.4,1989.5 C1571.6,1989.9 1575.2,1990.8 1576.4,1991.1 C1577.6,1991.3 1581.2,1991.8 1582.4,1992.0 C1583.6,1992.2 1587.2,1992.6 1588.4,1992.7 C1589.6,1992.8 1593.2,1993.2 1594.4,1993.3 C1595.6,1993.5 1599.2,1993.8 1600.4,1994.0 C1601.6,1994.2 1605.2,1994.8 1606.4,1995.1 C1607.6,1995.3 1611.2,1996.4 1612.4,1996.7 C1613.6,1997.0 1617.2,1998.0 1618.4,1998.3 C1619.6,1998.5 1623.3,1999.1 1624.5,1999.4 C1625.7,1999.6 1629.3,2000.3 1630.5,2000.6 C1631.7,2000.9 1635.3,2002.1 1636.5,2002.4 C1637.7,2002.7 1641.3,2003.6 1642.5,2003.8 C1643.7,2004.0 1647.3,2004.3 1648.5,2004.5 C1649.7,2004.6 1653.3,2005.0 1654.5,2005.2 C1655.7,2005.4 1659.3,2006.2 1660.5,2006.4 C1661.7,2006.7 1665.3,2007.6 1666.5,2007.9 C1667.7,2008.1 1671.3,2008.7 1672.5,2008.8 C1673.7,2009.0 1677.3,2009.2 1678.5,2009.3 C1679.7,2009.4 1683.3,2009.6 1684.5,2009.6 C1685.7,2009.7 1689.4,2009.8 1690.6,2009.9 C1691.8,2009.9 1695.4,2010.0 1696.6,2010.0 C1697.8,2010.0 1701.4,2010.0 1702.6,2010.0 C1703.8,2010.1 1707.4,2010.3 1708.6,2010.5 C1709.8,2010.6 1713.4,2011.5 1714.6,2011.8 C1715.8,2012.1 1719.4,2013.3 1720.6,2013.5 C1721.8,2013.8 1725.4,2014.3 1726.6,2014.4 C1727.8,2014.4 1731.4,2014.5 1732.6,2014.5 C1733.8,2014.5 1737.4,2014.5 1738.6,2014.5 C1739.8,2014.5 1743.4,2014.5 1744.6,2014.4 C1745.8,2014.3 1749.4,2014.0 1750.6,2013.8 C1751.8,2013.6 1755.4,2012.6 1756.7,2012.4 C1757.9,2012.1 1761.5,2011.3 1762.7,2011.1 C1763.9,2011.0 1767.5,2010.9 1768.7,2010.9 C1769.9,2010.8 1773.5,2011.0 1774.7,2011.0 C1775.9,2011.1 1779.5,2011.3 1780.7,2011.4 C1781.9,2011.5 1785.5,2011.9 1786.7,2012.1 C1787.9,2012.2 1791.5,2012.6 1792.7,2012.7 C1793.9,2012.8 1797.5,2013.1 1798.7,2013.1 C1799.9,2013.2 1803.5,2013.3 1804.7,2013.4 C1805.9,2013.4 1809.5,2013.6 1810.7,2013.7 C1811.9,2013.8 1815.5,2014.2 1816.7,2014.4 C1817.9,2014.6 1821.5,2015.5 1822.7,2015.7 C1824.0,2016.0 1827.6,2016.8 1828.8,2017.0 C1830.0,2017.2 1833.6,2017.5 1834.8,2017.6 C1836.0,2017.7 1839.6,2017.8 1840.8,2017.8 C1842.0,2017.9 1845.6,2017.9 1846.8,2018.0 C1848.0,2018.0 1851.6,2018.0 1852.8,2018.0 C1854.0,2018.0 1857.6,2018.0 1858.8,2018.0 C1860.0,2018.0 1863.6,2018.0 1864.8,2018.0 C1866.0,2018.0 1869.6,2017.9 1870.8,2017.8 C1872.0,2017.8 1875.6,2017.6 1876.8,2017.5 C1878.0,2017.4 1881.6,2017.0 1882.8,2016.9 C1884.0,2016.7 1887.6,2016.1 1888.8,2015.9 C1890.0,2015.7 1893.7,2015.2 1894.9,2015.0 C1896.1,2014.9 1899.7,2014.6 1900.9,2014.6 C1902.1,2014.5 1905.7,2014.5 1906.9,2014.5 C1908.1,2014.5 1911.7,2014.5 1912.9,2014.5 C1914.1,2014.5 1917.7,2014.6 1918.9,2014.6 C1920.1,2014.6 1923.7,2014.7 1924.9,2014.8 C1926.1,2014.8 1929.7,2014.9 1930.9,2014.9 C1932.1,2015.0 1935.7,2015.1 1936.9,2015.2 C1938.1,2015.2 1941.7,2015.4 1942.9,2015.5 C1944.1,2015.5 1947.7,2015.7 1948.9,2015.8 C1950.1,2015.8 1953.7,2016.0 1954.9,2016.1 C1956.1,2016.1 1959.8,2016.3 1961.0,2016.4 C1962.2,2016.4 1965.8,2016.6 1967.0,2016.7 C1968.2,2016.8 1971.8,2017.0 1973.0,2017.0 C1974.2,2017.1 1977.8,2017.3 1979.0,2017.4 C1980.2,2017.4 1983.7,2017.6 1985.0,2017.7 C1986.3,2017.7 1991.3,2017.9 1992.0,2017.9"/>
<path stroke-width="4.0" d="M143.8,2384.9 C144.6,2384.9 150.8,2384.8 152.3,2384.7 C153.7,2384.7 157.1,2384.6 158.3,2384.5 C159.5,2384.5 163.1,2384.3 164.3,2384.3 C165.5,2384.2 169.1,2384.1 170.3,2384.0 C171.5,2384.0 175.1,2383.8 176.3,2383.8 C177.5,2383.7 181.1,2383.5 182.3,2383.4 C183.5,2383.3 187.1,2383.1 188.3,2383.0 C189.5,2382.9 193.1,2382.7 194.3,2382.6 C195.5,2382.5 199.1,2382.3 200.3,2382.2 C201.5,2382.1 205.1,2381.9 206.3,2381.8 C207.5,2381.7 211.1,2381.5 212.3,2381.4 C213.6,2381.3 217.2,2381.1 218.4,2381.0 C219.6,2380.9 223.2,2380.7 224.4,2380.6 C225.6,2380.5 229.2,2380.3 230.4,2380.2 C231.6,2380.1 235.2,2379.8 236.4,2379.8 C237.6,2379.7 241.2,2379.4 242.4,2379.4 C243.6,2379.3 247.2,2379.1 248.4,2379.0 C249.6,2378.9 253.2,2378.7 254.4,2378.6 C255.6,2378.6 259.2,2378.4 260.4,2378.3 C261.6,2378.2 265.2,2378.1 266.4,2378.0 C267.6,2378.0 271.2,2377.9 272.4,2377.9 C273.6,2377.8 277.2,2377.8 278.4,2377.7 C279.6,2377.7 283.3,2377.6 284.5,2377.6 C285.7,2377.6 289.3,2377.6 290.5,2377.6 C291.7,2377.6 295.3,2377.6 296.5,2377.6 C297.7,2377.7 301.3,2377.7 302.5,2377.7 C303.7,2377.8 307.3,2377.8 308.5,2377.9 C309.7,2377.9 313.3,2377.9 314.5,2377.8 C315.7,2377.8 319.3,2377.6 320.5,2377.6 C321.7,2377.5 325.3,2377.3 326.5,2377.2 C327.7,2377.1 331.3,2376.9 332.5,2376.8 C333.7,2376.7 337.3,2376.5 338.5,2376.4 C339.7,2376.3 343.3,2376.2 344.5,2376.1 C345.7,2376.1 349.4,2376.0 350.6,2375.9 C351.8,2375.9 355.4,2375.8 356.6,2375.7 C357.8,2375.7 361.4,2375.5 362.6,2375.5 C363.8,2375.4 367.4,2375.0 368.6,2374.9 C369.8,2374.7 373.4,2374.2 374.6,2374.1 C375.8,2373.9 379.4,2373.4 380.6,2373.3 C381.8,2373.2 385.4,2372.9 386.6,2372.9 C387.8,2372.9 391.4,2373.0 392.6,2373.1 C393.8,2373.1 397.4,2373.3 398.6,2373.4 C399.8,2373.4 403.4,2373.4 404.6,2373.3 C405.8,2373.3 409.4,2373.0 410.6,2372.9 C411.8,2372.8 415.5,2372.5 416.7,2372.3 C417.9,2372.2 421.5,2371.9 422.7,2371.7 C423.9,2371.6 427.5,2371.3 428.7,2371.1 C429.9,2371.0 433.5,2370.7 434.7,2370.5 C435.9,2370.4 439.5,2370.1 440.7,2369.9 C441.9,2369.8 445.5,2369.4 446.7,2369.3 C447.9,2369.2 451.5,2368.7 452.7,2368.5 C453.9,2368.3 457.5,2367.7 458.7,2367.5 C459.9,2367.3 463.5,2366.5 464.7,2366.3 C465.9,2366.1 469.5,2365.3 470.7,2365.1 C471.9,2364.9 475.5,2364.3 476.7,2364.1 C477.9,2364.0 481.5,2363.6 482.8,2363.5 C484.0,2363.4 487.6,2363.3 488.8,2363.2 C490.0,2363.1 493.6,2362.9 494.8,2362.9 C496.0,2362.8 499.6,2362.6 500.8,2362.5 C502.0,2362.4 505.6,2362.0 506.8,2361.8 C508.0,2361.7 511.6,2361.1 512.8,2361.0 C514.0,2360.8 517.6,2360.2 518.8,2360.1 C520.0,2359.9 523.6,2359.3 524.8,2359.2 C526.0,2359.0 529.6,2358.4 530.8,2358.3 C532.0,2358.1 535.6,2357.5 536.8,2357.4 C538.0,2357.2 541.6,2356.6 542.8,2356.5 C544.0,2356.3 547.6,2355.8 548.9,2355.6 C550.1,2355.5 553.7,2355.2 554.9,2355.2 C556.1,2355.1 559.7,2355.0 560.9,2355.0 C562.1,2354.9 565.7,2354.7 566.9,2354.6 C568.1,2354.5 571.7,2354.0 572.9,2353.8 C574.1,2353.6 577.7,2352.9 578.9,2352.6 C580.1,2352.4 583.7,2351.7 584.9,2351.4 C586.1,2351.2 589.7,2350.5 590.9,2350.2 C592.1,2350.0 595.7,2349.3 596.9,2349.0 C598.1,2348.8 601.7,2348.1 602.9,2347.8 C604.1,2347.6 607.7,2346.9 608.9,2346.6 C610.1,2346.3 613.7,2345.6 614.9,2345.3 C616.2,2345.0 619.8,2344.0 621.0,2343.6 C622.2,2343.2 625.9,2341.9 627.0,2341.5 C628.1,2341.1 630.5,2340.9 632.0,2340.0 C633.5,2339.1 640.1,2334.5 642.0,2332.5 C643.9,2330.5 649.2,2323.0 650.8,2320.0 C652.2,2317.0 655.9,2305.5 657.0,2302.5 C658.1,2299.5 661.0,2291.5 662.0,2290.0 C663.0,2288.5 666.0,2287.5 667.0,2287.5 C668.0,2287.5 670.9,2288.2 672.0,2290.0 C673.1,2291.8 677.0,2302.5 678.2,2305.0 C679.5,2307.5 683.1,2313.8 684.5,2315.0 C685.9,2316.2 690.2,2317.2 692.0,2317.5 C693.8,2317.8 699.5,2317.5 702.0,2318.0 C704.5,2318.5 715.0,2321.7 717.1,2322.2 C719.2,2322.7 721.9,2323.1 723.1,2323.4 C724.3,2323.6 727.9,2324.5 729.1,2324.8 C730.3,2325.1 733.9,2326.0 735.1,2326.2 C736.3,2326.3 739.9,2326.5 741.1,2326.5 C742.3,2326.4 745.9,2326.1 747.1,2326.0 C748.3,2325.8 752.0,2325.2 753.2,2325.0 C754.4,2324.9 758.0,2324.3 759.2,2324.2 C760.4,2324.1 764.0,2323.9 765.2,2323.8 C766.4,2323.7 770.0,2323.6 771.2,2323.6 C772.4,2323.5 776.0,2323.2 777.2,2323.1 C778.4,2323.0 782.0,2322.6 783.2,2322.4 C784.4,2322.3 788.0,2321.8 789.2,2321.7 C790.4,2321.5 794.0,2321.1 795.2,2320.9 C796.4,2320.7 800.0,2320.1 801.2,2319.9 C802.4,2319.7 806.0,2318.9 807.2,2318.6 C808.4,2318.4 812.0,2317.4 813.2,2317.1 C814.4,2316.8 818.1,2315.7 819.3,2315.4 C820.5,2315.0 824.1,2314.1 825.3,2313.9 C826.5,2313.8 830.1,2313.8 831.3,2313.8 C832.5,2313.8 836.1,2314.3 837.3,2314.3 C838.5,2314.3 842.1,2314.1 843.3,2314.0 C844.5,2313.8 848.1,2312.9 849.3,2312.5 C850.5,2312.1 854.1,2310.5 855.3,2309.8 C856.5,2309.1 860.1,2306.4 861.3,2305.4 C862.5,2304.5 866.1,2301.3 867.3,2300.5 C868.5,2299.6 872.1,2297.2 873.3,2296.6 C874.5,2296.1 878.1,2295.0 879.3,2294.9 C880.5,2294.8 884.1,2295.2 885.4,2295.4 C886.6,2295.7 890.2,2297.0 891.4,2297.5 C892.6,2298.0 896.2,2299.7 897.4,2300.2 C898.6,2300.7 902.2,2302.2 903.4,2302.6 C904.6,2303.0 908.2,2303.9 909.4,2304.1 C910.6,2304.4 914.2,2305.0 915.4,2305.2 C916.6,2305.4 920.2,2306.0 921.4,2306.2 C922.6,2306.3 925.7,2306.6 927.4,2306.7 C929.1,2306.7 935.5,2307.4 938.5,2306.7 C941.4,2306.1 953.6,2301.8 957.0,2300.3 C960.3,2298.7 969.1,2292.5 971.7,2291.0 C974.3,2289.6 981.2,2287.3 982.8,2285.5 C984.5,2283.6 987.4,2275.7 988.4,2272.6 C989.3,2269.4 991.4,2258.7 992.1,2254.1 C992.7,2249.5 994.3,2231.9 994.8,2226.4 C995.3,2220.8 996.6,2205.1 997.0,2198.7 C997.5,2192.2 998.8,2169.1 999.3,2161.7 C999.7,2154.3 1001.2,2132.1 1001.7,2124.8 C1002.1,2117.4 1003.6,2095.2 1004.1,2087.8 C1004.5,2080.4 1005.8,2058.2 1006.3,2050.9 C1006.7,2043.5 1008.2,2020.0 1008.7,2013.9 C1009.1,2007.8 1010.3,1994.1 1010.7,1989.9 C1011.1,1985.7 1012.5,1974.4 1012.9,1971.8 C1013.3,1969.2 1014.3,1965.1 1014.6,1964.0 C1014.9,1963.0 1015.8,1961.4 1016.1,1961.4 C1016.4,1961.4 1017.4,1963.0 1017.7,1964.0 C1018.1,1965.1 1019.2,1969.2 1019.6,1971.8 C1020.0,1974.4 1021.2,1985.7 1021.6,1989.9 C1022.0,1994.1 1023.1,2007.8 1023.5,2013.9 C1023.9,2020.0 1025.2,2043.5 1025.7,2050.9 C1026.1,2058.2 1027.6,2080.4 1028.1,2087.8 C1028.5,2095.2 1029.8,2117.4 1030.3,2124.8 C1030.8,2132.1 1032.2,2154.3 1032.7,2161.7 C1033.2,2169.1 1034.8,2192.2 1035.3,2198.7 C1035.8,2205.1 1037.4,2220.8 1038.1,2226.4 C1038.7,2231.9 1040.9,2249.5 1041.8,2254.1 C1042.6,2258.7 1045.8,2269.4 1046.9,2272.6 C1048.1,2275.7 1051.5,2283.1 1053.0,2285.5 C1054.6,2287.9 1060.6,2294.9 1062.6,2296.6 C1064.6,2298.2 1070.6,2301.3 1073.0,2302.1 C1075.3,2303.0 1084.0,2304.2 1086.3,2304.9 C1088.5,2305.5 1093.3,2308.0 1095.5,2308.6 C1097.7,2309.1 1106.6,2310.3 1108.5,2310.4 C1110.3,2310.6 1112.6,2310.4 1113.7,2310.4 C1114.8,2310.3 1118.5,2310.3 1119.7,2310.3 C1120.9,2310.3 1124.5,2310.3 1125.7,2310.4 C1126.9,2310.5 1130.5,2311.1 1131.7,2311.2 C1132.9,2311.4 1136.5,2311.7 1137.7,2311.6 C1138.9,2311.6 1142.5,2311.1 1143.7,2310.8 C1144.9,2310.5 1148.5,2309.3 1149.7,2308.7 C1150.9,2308.1 1154.6,2305.7 1155.8,2304.8 C1156.9,2303.9 1160.2,2301.6 1161.5,2300.0 C1162.8,2298.4 1167.5,2291.2 1169.0,2288.8 C1170.5,2286.2 1175.0,2277.8 1176.5,2275.0 C1178.0,2272.2 1182.6,2263.2 1184.0,2261.2 C1185.4,2259.2 1189.2,2255.7 1190.2,2255.0 C1191.2,2254.3 1193.0,2254.0 1194.0,2254.5 C1195.0,2255.0 1199.0,2257.9 1200.2,2260.0 C1201.5,2262.1 1205.1,2271.8 1206.5,2275.0 C1207.9,2278.2 1212.5,2289.2 1214.0,2292.5 C1215.5,2295.8 1220.0,2305.0 1221.5,2307.5 C1223.0,2310.0 1227.8,2316.3 1229.0,2317.5 C1230.2,2318.7 1232.8,2318.9 1233.9,2319.4 C1235.0,2319.8 1238.7,2321.6 1239.9,2321.9 C1241.1,2322.3 1244.7,2322.9 1245.9,2323.0 C1247.1,2323.2 1250.7,2323.3 1251.9,2323.4 C1253.1,2323.4 1256.7,2323.2 1257.9,2323.1 C1259.1,2323.1 1262.7,2323.0 1263.9,2323.0 C1265.1,2323.0 1268.7,2323.4 1269.9,2323.4 C1271.1,2323.5 1274.7,2323.9 1275.9,2323.9 C1277.1,2323.9 1280.7,2323.6 1281.9,2323.5 C1283.1,2323.3 1286.8,2322.6 1288.0,2322.3 C1289.2,2322.0 1292.8,2320.8 1294.0,2320.3 C1295.2,2319.8 1298.8,2317.9 1300.0,2317.1 C1301.2,2316.4 1304.8,2313.7 1306.0,2313.0 C1307.2,2312.2 1310.8,2310.0 1312.0,2309.6 C1313.2,2309.2 1316.8,2308.7 1318.0,2308.8 C1319.2,2308.9 1322.8,2310.2 1324.0,2310.8 C1325.2,2311.4 1328.8,2313.8 1330.0,2314.6 C1331.2,2315.4 1334.8,2318.1 1336.0,2319.0 C1337.2,2319.8 1340.8,2322.3 1342.0,2323.0 C1343.2,2323.7 1346.8,2325.6 1348.0,2326.1 C1349.2,2326.6 1352.8,2327.9 1354.1,2328.3 C1355.3,2328.7 1358.9,2329.9 1360.1,2330.3 C1361.3,2330.6 1364.9,2331.8 1366.1,2332.1 C1367.3,2332.5 1370.9,2333.6 1372.1,2334.0 C1373.3,2334.4 1376.9,2335.5 1378.1,2335.7 C1379.3,2336.0 1382.9,2336.6 1384.1,2336.7 C1385.3,2336.9 1388.9,2337.0 1390.1,2337.0 C1391.3,2337.0 1394.9,2337.0 1396.1,2337.0 C1397.3,2336.9 1400.9,2336.9 1402.1,2336.8 C1403.3,2336.8 1406.9,2336.6 1408.1,2336.5 C1409.3,2336.4 1412.9,2336.0 1414.1,2335.7 C1415.3,2335.4 1418.9,2334.1 1420.1,2333.7 C1421.4,2333.2 1425.0,2331.5 1426.2,2331.1 C1427.4,2330.7 1431.0,2329.6 1432.2,2329.4 C1433.4,2329.2 1437.0,2329.0 1438.2,2329.1 C1439.4,2329.2 1443.0,2330.1 1444.2,2330.5 C1445.4,2331.0 1449.0,2332.8 1450.2,2333.5 C1451.4,2334.1 1455.0,2336.3 1456.2,2336.9 C1457.4,2337.5 1461.0,2339.3 1462.2,2339.8 C1463.4,2340.3 1467.0,2341.5 1468.2,2341.9 C1469.4,2342.3 1473.0,2343.2 1474.2,2343.4 C1475.4,2343.7 1479.0,2344.2 1480.2,2344.4 C1481.4,2344.5 1485.0,2344.9 1486.2,2345.0 C1487.4,2345.2 1491.1,2345.6 1492.3,2345.7 C1493.5,2345.9 1497.1,2346.3 1498.3,2346.5 C1499.5,2346.6 1503.1,2347.1 1504.3,2347.3 C1505.5,2347.5 1509.1,2348.0 1510.3,2348.2 C1511.5,2348.4 1515.1,2349.0 1516.3,2349.1 C1517.5,2349.3 1521.1,2349.7 1522.3,2349.8 C1523.5,2349.8 1527.1,2349.9 1528.3,2349.9 C1529.5,2349.9 1533.1,2349.7 1534.3,2349.5 C1535.5,2349.4 1539.1,2348.6 1540.3,2348.3 C1541.5,2348.0 1545.1,2346.9 1546.3,2346.6 C1547.5,2346.4 1551.1,2345.7 1552.3,2345.7 C1553.5,2345.7 1557.2,2346.0 1558.4,2346.4 C1559.6,2346.7 1563.2,2348.4 1564.4,2349.0 C1565.6,2349.7 1569.2,2351.9 1570.4,2352.6 C1571.6,2353.3 1575.2,2355.3 1576.4,2355.8 C1577.6,2356.4 1581.2,2357.7 1582.4,2358.0 C1583.6,2358.4 1587.2,2359.0 1588.4,2359.2 C1589.6,2359.3 1593.2,2359.4 1594.4,2359.5 C1595.6,2359.5 1599.2,2359.5 1600.4,2359.5 C1601.6,2359.5 1605.2,2359.5 1606.4,2359.5 C1607.6,2359.5 1611.2,2359.5 1612.4,2359.5 C1613.6,2359.5 1617.2,2359.5 1618.4,2359.5 C1619.6,2359.5 1623.3,2359.6 1624.5,2359.8 C1625.7,2359.9 1629.3,2360.5 1630.5,2360.8 C1631.7,2361.1 1635.3,2362.2 1636.5,2362.6 C1637.7,2362.9 1641.3,2363.7 1642.5,2364.0 C1643.7,2364.2 1647.3,2364.7 1648.5,2365.0 C1649.7,2365.2 1653.3,2366.1 1654.5,2366.4 C1655.7,2366.8 1659.3,2368.0 1660.5,2368.3 C1661.7,2368.7 1665.3,2369.7 1666.5,2370.0 C1667.7,2370.3 1671.3,2371.1 1672.5,2371.3 C1673.7,2371.6 1677.3,2372.4 1678.5,2372.6 C1679.7,2372.9 1683.3,2373.6 1684.5,2373.8 C1685.7,2374.0 1689.4,2374.3 1690.6,2374.4 C1691.8,2374.4 1695.4,2374.5 1696.6,2374.5 C1697.8,2374.5 1701.4,2374.5 1702.6,2374.5 C1703.8,2374.5 1707.4,2374.6 1708.6,2374.6 C1709.8,2374.6 1713.4,2374.7 1714.6,2374.7 C1715.8,2374.7 1719.4,2374.8 1720.6,2374.8 C1721.8,2374.8 1725.4,2374.9 1726.6,2374.9 C1727.8,2374.9 1731.4,2375.0 1732.6,2375.1 C1733.8,2375.1 1737.4,2375.2 1738.6,2375.2 C1739.8,2375.3 1743.4,2375.3 1744.6,2375.3 C1745.8,2375.3 1749.4,2375.2 1750.6,2375.1 C1751.8,2375.1 1755.4,2374.9 1756.7,2374.8 C1757.9,2374.8 1761.5,2374.6 1762.7,2374.6 C1763.9,2374.6 1767.5,2374.5 1768.7,2374.5 C1769.9,2374.4 1773.5,2374.3 1774.7,2374.2 C1775.9,2374.1 1779.5,2373.6 1780.7,2373.4 C1781.9,2373.3 1785.5,2372.5 1786.7,2372.3 C1787.9,2372.0 1791.5,2371.2 1792.7,2371.1 C1793.9,2370.9 1797.5,2370.6 1798.7,2370.6 C1799.9,2370.6 1803.5,2370.8 1804.7,2370.9 C1805.9,2371.0 1809.5,2371.4 1810.7,2371.5 C1811.9,2371.6 1815.5,2372.0 1816.7,2372.1 C1817.9,2372.2 1821.5,2372.6 1822.7,2372.7 C1824.0,2372.8 1827.6,2373.2 1828.8,2373.3 C1830.0,2373.4 1833.6,2373.8 1834.8,2373.9 C1836.0,2374.0 1839.6,2374.5 1840.8,2374.7 C1842.0,2374.8 1845.6,2375.5 1846.8,2375.7 C1848.0,2375.9 1851.6,2376.6 1852.8,2376.8 C1854.0,2376.9 1857.6,2377.3 1858.8,2377.3 C1860.0,2377.4 1863.6,2377.2 1864.8,2377.1 C1866.0,2377.0 1869.6,2376.8 1870.8,2376.8 C1872.0,2376.8 1875.6,2377.0 1876.8,2377.1 C1878.0,2377.1 1881.6,2377.3 1882.8,2377.2 C1884.0,2377.1 1887.6,2376.6 1888.8,2376.4 C1890.0,2376.2 1893.7,2375.3 1894.9,2375.1 C1896.1,2374.9 1899.7,2374.3 1900.9,2374.1 C1902.1,2373.9 1905.7,2373.5 1906.9,2373.3 C1908.1,2373.1 1911.7,2372.5 1912.9,2372.2 C1914.1,2372.0 1917.7,2371.1 1918.9,2370.9 C1920.1,2370.8 1923.7,2370.3 1924.9,2370.3 C1926.1,2370.2 1929.7,2370.4 1930.9,2370.6 C1932.1,2370.7 1935.7,2371.5 1936.9,2371.7 C1938.1,2372.0 1941.7,2372.8 1942.9,2373.0 C1944.1,2373.2 1947.7,2373.6 1948.9,2373.8 C1950.1,2373.9 1953.7,2374.3 1954.9,2374.4 C1956.1,2374.5 1959.8,2374.8 1961.0,2374.8 C1962.2,2374.9 1965.8,2375.0 1967.0,2375.1 C1968.2,2375.1 1971.8,2375.2 1973.0,2375.2 C1974.2,2375.2 1977.8,2375.3 1979.0,2375.3 C1980.2,2375.3 1983.7,2375.4 1985.0,2375.4 C1986.3,2375.4 1991.3,2375.5 1992.0,2375.5"/>
</g>
<path d="M143.5,54.0 V1171.3 M1996.8,54.0 V1171.3 M141.0,56.5 H1999.3 M141.0,1155.3 H1999.3" stroke="#0d0d0d" stroke-width="5.0" fill="none"/>
<path d="M218.6,1155.3 V1171.3 M294.7,1155.3 V1171.3 M365.8,1155.3 V1171.3 M441.0,1155.3 V1171.3 M517.1,1155.3 V1171.3 M588.3,1155.3 V1171.3 M664.5,1155.3 V1171.3 M735.8,1155.3 V1171.3 M811.2,1155.3 V1171.3 M887.6,1155.3 V1171.3 M958.5,1155.3 V1171.3 M1034.2,1155.3 V1171.3 M1109.6,1155.3 V1171.3 M1181.0,1155.3 V1171.3 M1256.4,1155.3 V1171.3 M1332.2,1155.3 V1171.3 M1403.2,1155.3 V1171.3 M1479.4,1155.3 V1171.3 M1555.1,1155.3 V1171.3 M1626.2,1155.3 V1171.3 M1702.0,1155.3 V1171.3 M1777.7,1155.3 V1171.3 M1849.5,1155.3 V1171.3 M1925.0,1155.3 V1171.3" stroke="#0d0d0d" stroke-width="4.8" fill="none"/>
<path d="M143.8,1301.7 V2432.5 M1992.0,1301.7 V2432.5 M141.3,1304.2 H1994.5 M141.3,2416.0 H1994.5" stroke="#0d0d0d" stroke-width="5.0" fill="none"/>
<path d="M218.6,2416.0 V2428.0 M290.3,2416.0 V2428.0 M365.8,2416.0 V2428.0 M441.0,2416.0 V2428.0 M512.8,2416.0 V2432.5 M588.3,2416.0 V2428.0 M659.5,2416.0 V2428.0 M735.2,2416.0 V2428.0 M811.3,2416.0 V2428.0 M882.5,2416.0 V2432.5 M958.4,2416.0 V2428.0 M1029.5,2416.0 V2428.0 M1105.2,2416.0 V2428.0 M1176.3,2416.0 V2428.0 M1252.1,2416.0 V2432.5 M1327.8,2416.0 V2428.0 M1398.7,2416.0 V2428.0 M1474.0,2416.0 V2428.0 M1545.2,2416.0 V2428.0 M1621.5,2416.0 V2432.5 M1692.8,2416.0 V2428.0 M1768.2,2416.0 V2428.0 M1844.8,2416.0 V2428.0 M1915.5,2416.0 V2428.0" stroke="#0d0d0d" stroke-width="4.8" fill="none"/>
<text x="458" y="134.8" font-size="69" font-weight="bold" textLength="1229" lengthAdjust="spacingAndGlyphs">PLLA3251D/LMW-PLLA powder blends</text>
<text x="520.5" y="1384.3" font-size="69" font-weight="bold" textLength="1083" lengthAdjust="spacingAndGlyphs">PLLA3251D/scPLA powder blends</text>
<text transform="translate(94.7 832.9) rotate(-90) scale(1.01 1)" font-size="58" font-weight="bold" dx="0.4 2.3 -1.5 -0.7 0.6 -3.6 -1.5 -0.8 2.4 -0.1 -0.1 0.3 -0.5 2.3 0.5 2.3">Intensity <tspan font-weight="normal" stroke="#0d0d0d" stroke-width="0.7">(</tspan>a.u.<tspan font-weight="normal" stroke="#0d0d0d" stroke-width="0.7">)</tspan></text>
<text transform="translate(95 2098.5) rotate(-90) scale(0.995 1)" font-size="58" font-weight="bold" dx="0.4 2.3 -1.5 -0.7 0.6 -3.6 -1.5 -0.8 2.4 -0.1 -0.1 0.3 -0.5 2.3 0.5 2.3">Intensity <tspan font-weight="normal" stroke="#0d0d0d" stroke-width="0.7">(</tspan>a.u.<tspan font-weight="normal" stroke="#0d0d0d" stroke-width="0.7">)</tspan></text>
<text transform="translate(926.3 2568.6) scale(1.0 1)" font-size="58" font-weight="bold">2<tspan font-weight="normal">θ</tspan> <tspan font-weight="normal" stroke="#0d0d0d" stroke-width="0.7">(</tspan>degree<tspan font-weight="normal" stroke="#0d0d0d" stroke-width="0.7">)</tspan></text>
<text x="159.3" y="570.8" font-size="66" font-weight="bold" letter-spacing="1.2"><tspan font-weight="normal" stroke="#0d0d0d" stroke-width="0.7">(</tspan>a<tspan font-weight="normal" stroke="#0d0d0d" stroke-width="0.7">)</tspan></text>
<text x="160.0" y="731.4" font-size="66" font-weight="bold" letter-spacing="1.2"><tspan font-weight="normal" stroke="#0d0d0d" stroke-width="0.7">(</tspan>b<tspan font-weight="normal" stroke="#0d0d0d" stroke-width="0.7">)</tspan></text>
<text x="160.8" y="890.0" font-size="66" font-weight="bold" letter-spacing="1.2"><tspan font-weight="normal" stroke="#0d0d0d" stroke-width="0.7">(</tspan>c<tspan font-weight="normal" stroke="#0d0d0d" stroke-width="0.7">)</tspan></text>
<text x="163.3" y="1070.0" font-size="66" font-weight="bold" letter-spacing="1.2"><tspan font-weight="normal" stroke="#0d0d0d" stroke-width="0.7">(</tspan>d<tspan font-weight="normal" stroke="#0d0d0d" stroke-width="0.7">)</tspan></text>
<text x="160.1" y="1495.0" font-size="66" font-weight="bold" letter-spacing="1.2"><tspan font-weight="normal" stroke="#0d0d0d" stroke-width="0.7">(</tspan>a<tspan font-weight="normal" stroke="#0d0d0d" stroke-width="0.7">)</tspan></text>
<text x="167.0" y="1686.2" font-size="66" font-weight="bold" letter-spacing="1.6"><tspan font-weight="normal" stroke="#0d0d0d" stroke-width="0.7">(</tspan>e<tspan font-weight="normal" stroke="#0d0d0d" stroke-width="0.7">)</tspan></text>
<text x="169.6" y="1992.5" font-size="66" font-weight="bold" letter-spacing="1.2"><tspan font-weight="normal" stroke="#0d0d0d" stroke-width="0.7">(</tspan>f<tspan font-weight="normal" stroke="#0d0d0d" stroke-width="0.7">)</tspan></text>
<text x="169.5" y="2366.2" font-size="66" font-weight="bold" letter-spacing="1.6"><tspan font-weight="normal" stroke="#0d0d0d" stroke-width="0.7">(</tspan>g<tspan font-weight="normal" stroke="#0d0d0d" stroke-width="0.7">)</tspan></text>
<text x="139" y="1220.8" font-size="52" stroke="#0d0d0d" stroke-width="1.9" stroke-linejoin="miter" textLength="27.8" lengthAdjust="spacingAndGlyphs" text-anchor="middle">5</text>
<text x="515" y="1220.8" font-size="52" stroke="#0d0d0d" stroke-width="1.9" stroke-linejoin="miter" textLength="55.5" lengthAdjust="spacingAndGlyphs" text-anchor="middle">10</text>
<text x="890" y="1220.8" font-size="52" stroke="#0d0d0d" stroke-width="1.9" stroke-linejoin="miter" textLength="55.5" lengthAdjust="spacingAndGlyphs" text-anchor="middle">15</text>
<text x="1253" y="1220.8" font-size="52" stroke="#0d0d0d" stroke-width="1.9" stroke-linejoin="miter" textLength="55.5" lengthAdjust="spacingAndGlyphs" text-anchor="middle">20</text>
<text x="1628" y="1220.8" font-size="52" stroke="#0d0d0d" stroke-width="1.9" stroke-linejoin="miter" textLength="55.5" lengthAdjust="spacingAndGlyphs" text-anchor="middle">25</text>
<text x="1987" y="1220.8" font-size="52" stroke="#0d0d0d" stroke-width="1.9" stroke-linejoin="miter" textLength="55.5" lengthAdjust="spacingAndGlyphs" text-anchor="middle">30</text>
<text x="142.5" y="2481.0" font-size="47.5" stroke="#0d0d0d" stroke-width="1.9" stroke-linejoin="miter" textLength="26.4" lengthAdjust="spacingAndGlyphs" text-anchor="middle">5</text>
<text x="517.4" y="2481.0" font-size="47.5" stroke="#0d0d0d" stroke-width="1.9" stroke-linejoin="miter" textLength="52.8" lengthAdjust="spacingAndGlyphs" text-anchor="middle">10</text>
<text x="892.3" y="2481.0" font-size="47.5" stroke="#0d0d0d" stroke-width="1.9" stroke-linejoin="miter" textLength="52.8" lengthAdjust="spacingAndGlyphs" text-anchor="middle">15</text>
<text x="1253" y="2481.0" font-size="47.5" stroke="#0d0d0d" stroke-width="1.9" stroke-linejoin="miter" textLength="52.8" lengthAdjust="spacingAndGlyphs" text-anchor="middle">20</text>
<text x="1628" y="2481.0" font-size="47.5" stroke="#0d0d0d" stroke-width="1.9" stroke-linejoin="miter" textLength="52.8" lengthAdjust="spacingAndGlyphs" text-anchor="middle">25</text>
<text x="1987.7" y="2481.0" font-size="47.5" stroke="#0d0d0d" stroke-width="1.9" stroke-linejoin="miter" textLength="52.8" lengthAdjust="spacingAndGlyphs" text-anchor="middle">30</text>
</svg>
</body>
</html>
